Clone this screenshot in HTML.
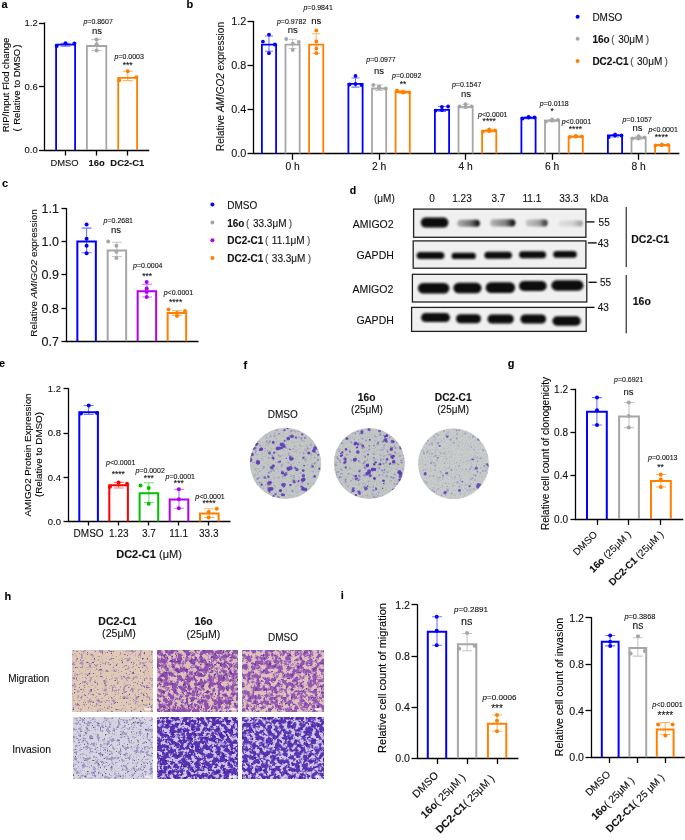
<!DOCTYPE html>
<html><head><meta charset="utf-8"><style>
html,body{margin:0;padding:0;background:#fff;}
svg{display:block;will-change:transform;}
text{font-family:"Liberation Sans", sans-serif;stroke:#000;stroke-width:0.1px;}
</style></head><body>
<svg width="685" height="840" viewBox="0 0 685 840">
<rect width="685" height="840" fill="#fff"/>
<text x="1.50" y="8.00" font-size="11" text-anchor="start" font-weight="bold" fill="#000" >a</text>
<line x1="44.50" y1="22.40" x2="44.50" y2="150.00" stroke="#000" stroke-width="1.3"/>
<line x1="39.00" y1="23.50" x2="44.50" y2="23.50" stroke="#000" stroke-width="1.3"/>
<text x="37.80" y="26.42" font-size="9.5" text-anchor="end" fill="#111" >1.2</text>
<line x1="39.00" y1="86.50" x2="44.50" y2="86.50" stroke="#000" stroke-width="1.3"/>
<text x="37.80" y="89.92" font-size="9.5" text-anchor="end" fill="#111" >0.6</text>
<line x1="39.00" y1="150.50" x2="44.50" y2="150.50" stroke="#000" stroke-width="1.3"/>
<text x="37.80" y="153.42" font-size="9.5" text-anchor="end" fill="#111" >0.0</text>
<line x1="43.90" y1="150.50" x2="149.30" y2="150.50" stroke="#000" stroke-width="1.3"/>
<line x1="65.50" y1="150.50" x2="65.50" y2="155.50" stroke="#000" stroke-width="1.3"/>
<line x1="96.50" y1="150.50" x2="96.50" y2="155.50" stroke="#000" stroke-width="1.3"/>
<line x1="127.50" y1="150.50" x2="127.50" y2="155.50" stroke="#000" stroke-width="1.3"/>
<text transform="translate(8.80,85.00) rotate(-90)" font-size="9.5" text-anchor="middle" fill="#000">RIP/Input Flod change</text>
<text transform="translate(19.50,88.00) rotate(-90)" font-size="9.5" text-anchor="middle" fill="#000"><tspan>(</tspan><tspan dx="3.5">Relative to DMSO</tspan><tspan dx="1">)</tspan></text>
<path d="M65.50 43.20V46.20M60.50 43.20H70.50M60.50 46.20H70.50" fill="none" stroke="#7474ff" stroke-width="1.1"/>
<path d="M56.10 150.00V44.60H75.10V150.00" fill="none" stroke="#0000ff" stroke-width="1.8" stroke-linejoin="miter"/>
<circle cx="56.70" cy="46.00" r="2.0" fill="#0000ff"/>
<circle cx="65.50" cy="43.20" r="2.0" fill="#0000ff"/>
<circle cx="74.40" cy="43.60" r="2.0" fill="#0000ff"/>
<path d="M96.60 39.40V50.50M91.60 39.40H101.60M91.60 50.50H101.60" fill="none" stroke="#c8c8c8" stroke-width="1.1"/>
<path d="M86.90 150.00V46.00H106.30V150.00" fill="none" stroke="#a6a6a6" stroke-width="1.8" stroke-linejoin="miter"/>
<circle cx="96.60" cy="39.40" r="2.0" fill="#a6a6a6"/>
<circle cx="96.60" cy="44.30" r="2.0" fill="#a6a6a6"/>
<circle cx="96.60" cy="50.50" r="2.0" fill="#a6a6a6"/>
<path d="M127.70 71.30V80.60M122.70 71.30H132.70M122.70 80.60H132.70" fill="none" stroke="#ffb568" stroke-width="1.1"/>
<path d="M118.20 150.00V77.80H137.10V150.00" fill="none" stroke="#ff8000" stroke-width="1.8" stroke-linejoin="miter"/>
<circle cx="127.70" cy="71.30" r="2.0" fill="#ff8000"/>
<circle cx="119.30" cy="80.20" r="2.0" fill="#ff8000"/>
<circle cx="136.30" cy="77.20" r="2.0" fill="#ff8000"/>
<text x="83.40" y="24.00" font-size="7" text-anchor="start" fill="#111"><tspan font-style="italic">p</tspan>=0.8607</text>
<text x="97.00" y="33.60" font-size="9.5" text-anchor="middle" fill="#111" >ns</text>
<text x="114.50" y="58.50" font-size="7" text-anchor="start" fill="#111"><tspan font-style="italic">p</tspan>=0.0003</text>
<text x="127.60" y="68.00" font-size="8.5" text-anchor="middle" fill="#111" >***</text>
<text x="64.50" y="165.90" font-size="9.4" text-anchor="middle" fill="#111" >DMSO</text>
<text x="96.60" y="165.90" font-size="9.4" text-anchor="middle" font-weight="bold" fill="#111" >16o</text>
<text x="127.30" y="165.90" font-size="9.4" text-anchor="middle" font-weight="bold" fill="#111" >DC2-C1</text>
<text x="186.50" y="7.60" font-size="11" text-anchor="start" font-weight="bold" fill="#000" >b</text>
<line x1="253.50" y1="21.00" x2="253.50" y2="153.40" stroke="#000" stroke-width="1.3"/>
<line x1="247.50" y1="21.50" x2="253.50" y2="21.50" stroke="#000" stroke-width="1.3"/>
<text x="246.30" y="25.49" font-size="10.8" text-anchor="end" fill="#111" >1.2</text>
<line x1="247.50" y1="65.50" x2="253.50" y2="65.50" stroke="#000" stroke-width="1.3"/>
<text x="246.30" y="69.42" font-size="10.8" text-anchor="end" fill="#111" >0.8</text>
<line x1="247.50" y1="109.50" x2="253.50" y2="109.50" stroke="#000" stroke-width="1.3"/>
<text x="246.30" y="113.35" font-size="10.8" text-anchor="end" fill="#111" >0.4</text>
<line x1="247.50" y1="153.50" x2="253.50" y2="153.50" stroke="#000" stroke-width="1.3"/>
<text x="246.30" y="157.29" font-size="10.8" text-anchor="end" fill="#111" >0.0</text>
<line x1="252.90" y1="153.50" x2="679.40" y2="153.50" stroke="#000" stroke-width="1.3"/>
<line x1="292.50" y1="153.50" x2="292.50" y2="159.80" stroke="#000" stroke-width="1.3"/>
<line x1="379.50" y1="153.50" x2="379.50" y2="159.80" stroke="#000" stroke-width="1.3"/>
<line x1="465.50" y1="153.50" x2="465.50" y2="159.80" stroke="#000" stroke-width="1.3"/>
<line x1="552.50" y1="153.50" x2="552.50" y2="159.80" stroke="#000" stroke-width="1.3"/>
<line x1="638.50" y1="153.50" x2="638.50" y2="159.80" stroke="#000" stroke-width="1.3"/>
<text x="292.60" y="169.80" font-size="10.3" text-anchor="middle" fill="#111" >0 h</text>
<text x="379.10" y="169.80" font-size="10.3" text-anchor="middle" fill="#111" >2 h</text>
<text x="465.60" y="169.80" font-size="10.3" text-anchor="middle" fill="#111" >4 h</text>
<text x="552.10" y="169.80" font-size="10.3" text-anchor="middle" fill="#111" >6 h</text>
<text x="638.60" y="169.80" font-size="10.3" text-anchor="middle" fill="#111" >8 h</text>
<text transform="translate(224.3,86.5) rotate(-90)" font-size="10" text-anchor="middle" fill="#111">Relative <tspan font-style="italic">AMIGO2</tspan> expression</text>
<path d="M269.00 36.00V51.30M265.00 36.00H273.00M265.00 51.30H273.00" fill="none" stroke="#7474ff" stroke-width="1.1"/>
<path d="M261.90 153.40V44.70H276.10V153.40" fill="none" stroke="#0000ff" stroke-width="1.8" stroke-linejoin="miter"/>
<circle cx="269.00" cy="34.60" r="1.9" fill="#0000ff"/>
<circle cx="262.90" cy="41.60" r="1.9" fill="#0000ff"/>
<circle cx="274.90" cy="44.50" r="1.9" fill="#0000ff"/>
<circle cx="269.00" cy="53.20" r="1.9" fill="#0000ff"/>
<path d="M292.60 39.20V48.50M288.60 39.20H296.60M288.60 48.50H296.60" fill="none" stroke="#c8c8c8" stroke-width="1.1"/>
<path d="M285.50 153.40V44.70H299.70V153.40" fill="none" stroke="#a6a6a6" stroke-width="1.8" stroke-linejoin="miter"/>
<circle cx="286.20" cy="39.00" r="1.9" fill="#a6a6a6"/>
<circle cx="292.80" cy="43.60" r="1.9" fill="#a6a6a6"/>
<circle cx="298.80" cy="42.00" r="1.9" fill="#a6a6a6"/>
<circle cx="292.80" cy="50.00" r="1.9" fill="#a6a6a6"/>
<path d="M316.20 33.80V53.20M312.20 33.80H320.20M312.20 53.20H320.20" fill="none" stroke="#ffb568" stroke-width="1.1"/>
<path d="M309.10 153.40V44.70H323.30V153.40" fill="none" stroke="#ff8000" stroke-width="1.8" stroke-linejoin="miter"/>
<circle cx="316.30" cy="30.50" r="1.9" fill="#ff8000"/>
<circle cx="316.30" cy="41.40" r="1.9" fill="#ff8000"/>
<circle cx="316.30" cy="48.50" r="1.9" fill="#ff8000"/>
<circle cx="316.30" cy="53.20" r="1.9" fill="#ff8000"/>
<path d="M355.50 78.00V87.10M351.50 78.00H359.50M351.50 87.10H359.50" fill="none" stroke="#7474ff" stroke-width="1.1"/>
<path d="M348.40 153.40V83.90H362.60V153.40" fill="none" stroke="#0000ff" stroke-width="1.8" stroke-linejoin="miter"/>
<circle cx="355.50" cy="75.90" r="1.9" fill="#0000ff"/>
<circle cx="349.50" cy="84.50" r="1.9" fill="#0000ff"/>
<circle cx="355.50" cy="84.00" r="1.9" fill="#0000ff"/>
<circle cx="361.50" cy="85.00" r="1.9" fill="#0000ff"/>
<path d="M379.10 85.00V90.50M375.10 85.00H383.10M375.10 90.50H383.10" fill="none" stroke="#c8c8c8" stroke-width="1.1"/>
<path d="M372.00 153.40V88.50H386.20V153.40" fill="none" stroke="#a6a6a6" stroke-width="1.8" stroke-linejoin="miter"/>
<circle cx="373.30" cy="85.00" r="1.9" fill="#a6a6a6"/>
<circle cx="379.10" cy="86.40" r="1.9" fill="#a6a6a6"/>
<circle cx="385.80" cy="88.50" r="1.9" fill="#a6a6a6"/>
<circle cx="379.10" cy="88.00" r="1.9" fill="#a6a6a6"/>
<path d="M402.70 90.30V93.50M398.70 90.30H406.70M398.70 93.50H406.70" fill="none" stroke="#ffb568" stroke-width="1.1"/>
<path d="M395.60 153.40V92.00H409.80V153.40" fill="none" stroke="#ff8000" stroke-width="1.8" stroke-linejoin="miter"/>
<circle cx="397.00" cy="90.30" r="1.9" fill="#ff8000"/>
<circle cx="403.10" cy="91.80" r="1.9" fill="#ff8000"/>
<circle cx="409.10" cy="92.30" r="1.9" fill="#ff8000"/>
<circle cx="403.00" cy="92.50" r="1.9" fill="#ff8000"/>
<path d="M442.00 106.50V111.50M438.00 106.50H446.00M438.00 111.50H446.00" fill="none" stroke="#7474ff" stroke-width="1.1"/>
<path d="M434.90 153.40V109.80H449.10V153.40" fill="none" stroke="#0000ff" stroke-width="1.8" stroke-linejoin="miter"/>
<circle cx="441.90" cy="106.80" r="1.9" fill="#0000ff"/>
<circle cx="448.10" cy="106.50" r="1.9" fill="#0000ff"/>
<circle cx="435.70" cy="110.60" r="1.9" fill="#0000ff"/>
<circle cx="442.00" cy="110.00" r="1.9" fill="#0000ff"/>
<path d="M465.60 104.20V108.00M461.60 104.20H469.60M461.60 108.00H469.60" fill="none" stroke="#c8c8c8" stroke-width="1.1"/>
<path d="M458.50 153.40V106.80H472.70V153.40" fill="none" stroke="#a6a6a6" stroke-width="1.8" stroke-linejoin="miter"/>
<circle cx="459.50" cy="106.50" r="1.9" fill="#a6a6a6"/>
<circle cx="465.60" cy="104.20" r="1.9" fill="#a6a6a6"/>
<circle cx="471.50" cy="106.50" r="1.9" fill="#a6a6a6"/>
<circle cx="465.60" cy="107.00" r="1.9" fill="#a6a6a6"/>
<path d="M489.20 129.50V132.00M485.20 129.50H493.20M485.20 132.00H493.20" fill="none" stroke="#ffb568" stroke-width="1.1"/>
<path d="M482.10 153.40V130.80H496.30V153.40" fill="none" stroke="#ff8000" stroke-width="1.8" stroke-linejoin="miter"/>
<circle cx="483.00" cy="131.50" r="1.9" fill="#ff8000"/>
<circle cx="489.20" cy="129.50" r="1.9" fill="#ff8000"/>
<circle cx="495.00" cy="130.50" r="1.9" fill="#ff8000"/>
<circle cx="489.20" cy="131.00" r="1.9" fill="#ff8000"/>
<path d="M528.50 116.80V118.80M524.50 116.80H532.50M524.50 118.80H532.50" fill="none" stroke="#7474ff" stroke-width="1.1"/>
<path d="M521.40 153.40V117.80H535.60V153.40" fill="none" stroke="#0000ff" stroke-width="1.8" stroke-linejoin="miter"/>
<circle cx="522.50" cy="118.50" r="1.9" fill="#0000ff"/>
<circle cx="528.60" cy="116.80" r="1.9" fill="#0000ff"/>
<circle cx="534.50" cy="117.50" r="1.9" fill="#0000ff"/>
<circle cx="528.60" cy="117.50" r="1.9" fill="#0000ff"/>
<path d="M552.10 119.50V121.80M548.10 119.50H556.10M548.10 121.80H556.10" fill="none" stroke="#c8c8c8" stroke-width="1.1"/>
<path d="M545.00 153.40V120.60H559.20V153.40" fill="none" stroke="#a6a6a6" stroke-width="1.8" stroke-linejoin="miter"/>
<circle cx="546.00" cy="121.50" r="1.9" fill="#a6a6a6"/>
<circle cx="552.10" cy="119.50" r="1.9" fill="#a6a6a6"/>
<circle cx="558.00" cy="120.00" r="1.9" fill="#a6a6a6"/>
<circle cx="552.10" cy="120.50" r="1.9" fill="#a6a6a6"/>
<path d="M575.70 136.00V137.50M571.70 136.00H579.70M571.70 137.50H579.70" fill="none" stroke="#ffb568" stroke-width="1.1"/>
<path d="M568.60 153.40V136.70H582.80V153.40" fill="none" stroke="#ff8000" stroke-width="1.8" stroke-linejoin="miter"/>
<circle cx="569.80" cy="137.00" r="1.9" fill="#ff8000"/>
<circle cx="575.80" cy="136.00" r="1.9" fill="#ff8000"/>
<circle cx="581.80" cy="136.50" r="1.9" fill="#ff8000"/>
<circle cx="575.80" cy="136.50" r="1.9" fill="#ff8000"/>
<path d="M615.00 134.50V137.00M611.00 134.50H619.00M611.00 137.00H619.00" fill="none" stroke="#7474ff" stroke-width="1.1"/>
<path d="M607.90 153.40V135.40H622.10V153.40" fill="none" stroke="#0000ff" stroke-width="1.8" stroke-linejoin="miter"/>
<circle cx="608.80" cy="137.00" r="1.9" fill="#0000ff"/>
<circle cx="615.10" cy="134.50" r="1.9" fill="#0000ff"/>
<circle cx="621.50" cy="135.50" r="1.9" fill="#0000ff"/>
<circle cx="615.00" cy="135.50" r="1.9" fill="#0000ff"/>
<path d="M638.60 136.20V139.50M634.60 136.20H642.60M634.60 139.50H642.60" fill="none" stroke="#c8c8c8" stroke-width="1.1"/>
<path d="M631.50 153.40V137.90H645.70V153.40" fill="none" stroke="#a6a6a6" stroke-width="1.8" stroke-linejoin="miter"/>
<circle cx="632.50" cy="138.50" r="1.9" fill="#a6a6a6"/>
<circle cx="638.60" cy="136.20" r="1.9" fill="#a6a6a6"/>
<circle cx="644.50" cy="137.50" r="1.9" fill="#a6a6a6"/>
<circle cx="638.60" cy="138.50" r="1.9" fill="#a6a6a6"/>
<path d="M662.20 144.50V146.00M658.20 144.50H666.20M658.20 146.00H666.20" fill="none" stroke="#ffb568" stroke-width="1.1"/>
<path d="M655.10 153.40V145.00H669.30V153.40" fill="none" stroke="#ff8000" stroke-width="1.8" stroke-linejoin="miter"/>
<circle cx="655.50" cy="145.50" r="1.9" fill="#ff8000"/>
<circle cx="661.80" cy="144.50" r="1.9" fill="#ff8000"/>
<circle cx="668.00" cy="145.00" r="1.9" fill="#ff8000"/>
<circle cx="661.80" cy="145.20" r="1.9" fill="#ff8000"/>
<text x="276.90" y="23.70" font-size="7" text-anchor="start" fill="#111"><tspan font-style="italic">p</tspan>=0.9782</text>
<text x="292.80" y="33.20" font-size="9.5" text-anchor="middle" fill="#111" >ns</text>
<text x="303.40" y="10.40" font-size="7" text-anchor="start" fill="#111"><tspan font-style="italic">p</tspan>=0.9841</text>
<text x="316.20" y="23.70" font-size="9.5" text-anchor="middle" fill="#111" >ns</text>
<text x="366.30" y="61.70" font-size="7" text-anchor="start" fill="#111"><tspan font-style="italic">p</tspan>=0.0977</text>
<text x="379.10" y="74.00" font-size="9.5" text-anchor="middle" fill="#111" >ns</text>
<text x="392.00" y="77.80" font-size="7" text-anchor="start" fill="#111"><tspan font-style="italic">p</tspan>=0.0092</text>
<text x="403.00" y="86.50" font-size="8.5" text-anchor="middle" fill="#111" >**</text>
<text x="451.90" y="86.70" font-size="7" text-anchor="start" fill="#111"><tspan font-style="italic">p</tspan>=0.1547</text>
<text x="465.90" y="96.60" font-size="9.5" text-anchor="middle" fill="#111" >ns</text>
<text x="478.10" y="116.50" font-size="7" text-anchor="start" fill="#111"><tspan font-style="italic">p</tspan>&lt;0.0001</text>
<text x="489.20" y="124.20" font-size="8.5" text-anchor="middle" fill="#111" >****</text>
<text x="539.80" y="105.80" font-size="7" text-anchor="start" fill="#111"><tspan font-style="italic">p</tspan>=0.0118</text>
<text x="552.10" y="114.10" font-size="8.5" text-anchor="middle" fill="#111" >*</text>
<text x="561.70" y="123.90" font-size="7" text-anchor="start" fill="#111"><tspan font-style="italic">p</tspan>&lt;0.0001</text>
<text x="575.40" y="131.60" font-size="8.5" text-anchor="middle" fill="#111" >****</text>
<text x="622.60" y="121.80" font-size="7" text-anchor="start" fill="#111"><tspan font-style="italic">p</tspan>=0.1057</text>
<text x="637.60" y="131.30" font-size="9.5" text-anchor="middle" fill="#111" >ns</text>
<text x="648.40" y="131.70" font-size="7" text-anchor="start" fill="#111"><tspan font-style="italic">p</tspan>&lt;0.0001</text>
<text x="661.40" y="140.00" font-size="8.5" text-anchor="middle" fill="#111" >****</text>
<circle cx="577.6" cy="16.8" r="2" fill="#0000ff"/>
<text x="592.4" y="20.50" font-size="10" fill="#111">DMSO</text>
<circle cx="577.6" cy="38.8" r="2" fill="#a6a6a6"/>
<text x="592.4" y="42.50" font-size="10" fill="#111"><tspan font-weight="bold">16o</tspan><tspan dx="1.6" fill="#555">(</tspan><tspan dx="3.6">30μM</tspan><tspan dx="2.3" fill="#555">)</tspan></text>
<circle cx="577.6" cy="61.1" r="2" fill="#ff8000"/>
<text x="592.4" y="64.80" font-size="10" fill="#111"><tspan font-weight="bold">DC2-C1</tspan><tspan dx="1.6" fill="#555">(</tspan><tspan dx="3.6">30μM</tspan><tspan dx="2.3" fill="#555">)</tspan></text>
<text x="2.00" y="186.70" font-size="11" text-anchor="start" font-weight="bold" fill="#000" >c</text>
<line x1="66.50" y1="208.00" x2="66.50" y2="341.30" stroke="#000" stroke-width="1.3"/>
<line x1="61.50" y1="208.50" x2="66.50" y2="208.50" stroke="#000" stroke-width="1.3"/>
<text x="59.00" y="213.10" font-size="12.5" text-anchor="end" fill="#111" >1.1</text>
<line x1="61.50" y1="241.50" x2="66.50" y2="241.50" stroke="#000" stroke-width="1.3"/>
<text x="59.00" y="246.27" font-size="12.5" text-anchor="end" fill="#111" >1.0</text>
<line x1="61.50" y1="274.50" x2="66.50" y2="274.50" stroke="#000" stroke-width="1.3"/>
<text x="59.00" y="279.45" font-size="12.5" text-anchor="end" fill="#111" >0.9</text>
<line x1="61.50" y1="308.50" x2="66.50" y2="308.50" stroke="#000" stroke-width="1.3"/>
<text x="59.00" y="312.62" font-size="12.5" text-anchor="end" fill="#111" >0.8</text>
<line x1="61.50" y1="341.50" x2="66.50" y2="341.50" stroke="#000" stroke-width="1.3"/>
<text x="59.00" y="345.80" font-size="12.5" text-anchor="end" fill="#111" >0.7</text>
<line x1="65.90" y1="341.50" x2="198.50" y2="341.50" stroke="#000" stroke-width="1.3"/>
<text transform="translate(36.8,273) rotate(-90)" font-size="9.9" text-anchor="middle" fill="#111">Relative <tspan font-style="italic">AMIGO2</tspan> expression</text>
<path d="M86.60 228.10V252.70M81.60 228.10H91.60M81.60 252.70H91.60" fill="none" stroke="#7474ff" stroke-width="1.1"/>
<path d="M77.35 341.30V241.60H95.85V341.30" fill="none" stroke="#0000ff" stroke-width="2" stroke-linejoin="miter"/>
<circle cx="86.60" cy="224.60" r="2.0" fill="#0000ff"/>
<circle cx="86.60" cy="238.70" r="2.0" fill="#0000ff"/>
<circle cx="86.60" cy="245.70" r="2.0" fill="#0000ff"/>
<circle cx="86.60" cy="253.20" r="2.0" fill="#0000ff"/>
<path d="M116.90 242.20V256.50M111.90 242.20H121.90M111.90 256.50H121.90" fill="none" stroke="#c8c8c8" stroke-width="1.1"/>
<path d="M107.65 341.30V250.40H126.15V341.30" fill="none" stroke="#a6a6a6" stroke-width="2" stroke-linejoin="miter"/>
<circle cx="108.20" cy="241.60" r="2.0" fill="#a6a6a6"/>
<circle cx="116.40" cy="245.70" r="2.0" fill="#a6a6a6"/>
<circle cx="116.40" cy="251.80" r="2.0" fill="#a6a6a6"/>
<circle cx="116.40" cy="257.90" r="2.0" fill="#a6a6a6"/>
<path d="M146.90 284.20V297.00M141.90 284.20H151.90M141.90 297.00H151.90" fill="none" stroke="#d070f6" stroke-width="1.1"/>
<path d="M137.65 341.30V291.20H156.15V341.30" fill="none" stroke="#b000f0" stroke-width="2" stroke-linejoin="miter"/>
<circle cx="146.70" cy="281.90" r="2.0" fill="#b000f0"/>
<circle cx="146.70" cy="288.60" r="2.0" fill="#b000f0"/>
<circle cx="146.70" cy="292.10" r="2.0" fill="#b000f0"/>
<circle cx="146.70" cy="297.00" r="2.0" fill="#b000f0"/>
<path d="M176.90 310.50V315.50M171.90 310.50H181.90M171.90 315.50H181.90" fill="none" stroke="#ffb568" stroke-width="1.1"/>
<path d="M167.65 341.30V313.10H186.15V341.30" fill="none" stroke="#ff8000" stroke-width="2" stroke-linejoin="miter"/>
<circle cx="168.50" cy="309.50" r="2.0" fill="#ff8000"/>
<circle cx="176.90" cy="316.00" r="2.0" fill="#ff8000"/>
<circle cx="176.90" cy="313.00" r="2.0" fill="#ff8000"/>
<circle cx="185.00" cy="311.00" r="2.0" fill="#ff8000"/>
<text x="103.60" y="222.90" font-size="7" text-anchor="start" fill="#111"><tspan font-style="italic">p</tspan>=0.2681</text>
<text x="115.90" y="233.40" font-size="9.5" text-anchor="middle" fill="#111" >ns</text>
<text x="133.10" y="267.60" font-size="7" text-anchor="start" fill="#111"><tspan font-style="italic">p</tspan>=0.0004</text>
<text x="147.10" y="278.50" font-size="8.5" text-anchor="middle" fill="#111" >***</text>
<text x="163.70" y="295.20" font-size="7" text-anchor="start" fill="#111"><tspan font-style="italic">p</tspan>&lt;0.0001</text>
<text x="175.60" y="305.30" font-size="8.5" text-anchor="middle" fill="#111" >****</text>
<circle cx="212.4" cy="204.5" r="2" fill="#0000ff"/>
<text x="227.2" y="208.60" font-size="10" fill="#111">DMSO</text>
<circle cx="212.4" cy="222.5" r="2" fill="#a6a6a6"/>
<text x="227.2" y="226.60" font-size="10" fill="#111"><tspan font-weight="bold">16o</tspan><tspan dx="1.6" fill="#555">(</tspan><tspan dx="3.6">33.3μM</tspan><tspan dx="2.3" fill="#555">)</tspan></text>
<circle cx="212.4" cy="240.2" r="2" fill="#b000f0"/>
<text x="227.2" y="244.30" font-size="10" fill="#111"><tspan font-weight="bold">DC2-C1</tspan><tspan dx="1.6" fill="#555">(</tspan><tspan dx="3.6">11.1μM</tspan><tspan dx="2.3" fill="#555">)</tspan></text>
<circle cx="212.4" cy="258.1" r="2" fill="#ff8000"/>
<text x="227.2" y="262.20" font-size="10" fill="#111"><tspan font-weight="bold">DC2-C1</tspan><tspan dx="1.6" fill="#555">(</tspan><tspan dx="3.6">33.3μM</tspan><tspan dx="2.3" fill="#555">)</tspan></text>
<text x="349.80" y="193.90" font-size="10.5" text-anchor="start" font-weight="bold" fill="#000" >d</text>
<text x="384.40" y="201.80" font-size="10" text-anchor="middle" fill="#111" >(μM)</text>
<text x="432.00" y="201.80" font-size="10" text-anchor="middle" fill="#111" >0</text>
<text x="462.00" y="201.80" font-size="10" text-anchor="middle" fill="#111" >1.23</text>
<text x="498.40" y="201.80" font-size="10" text-anchor="middle" fill="#111" >3.7</text>
<text x="531.90" y="201.80" font-size="10" text-anchor="middle" fill="#111" >11.1</text>
<text x="568.90" y="201.80" font-size="10" text-anchor="middle" fill="#111" >33.3</text>
<text x="590.50" y="201.80" font-size="10" text-anchor="start" fill="#111" >kDa</text>
<rect x="413.6" y="209.1" width="172.30" height="28.20" fill="#f0f0f0" stroke="#222" stroke-width="1.3"/>
<rect x="413.2" y="240.9" width="172.70" height="27.30" fill="#f0f0f0" stroke="#222" stroke-width="1.3"/>
<rect x="412.4" y="274.3" width="174.40" height="27.70" fill="#f0f0f0" stroke="#222" stroke-width="1.3"/>
<rect x="411.6" y="307.4" width="174.60" height="24.00" fill="#f0f0f0" stroke="#222" stroke-width="1.3"/>
<defs><filter id="bb" x="-20%" y="-50%" width="140%" height="200%"><feGaussianBlur stdDeviation="0.8"/></filter><linearGradient id="gA2" x1="0" x2="1"><stop offset="0" stop-color="#b0b0b0"/><stop offset="0.6" stop-color="#707070"/><stop offset="0.9" stop-color="#151515"/><stop offset="1" stop-color="#303030"/></linearGradient><linearGradient id="gA3" x1="0" x2="1"><stop offset="0" stop-color="#b8b8b8"/><stop offset="0.6" stop-color="#808080"/><stop offset="0.9" stop-color="#151515"/><stop offset="1" stop-color="#303030"/></linearGradient><linearGradient id="gA4" x1="0" x2="1"><stop offset="0" stop-color="#c8c8c8"/><stop offset="0.6" stop-color="#a0a0a0"/><stop offset="0.88" stop-color="#404040"/><stop offset="1" stop-color="#707070"/></linearGradient><linearGradient id="gA5" x1="0" x2="1"><stop offset="0" stop-color="#e0e0e0"/><stop offset="0.6" stop-color="#cfcfcf"/><stop offset="0.9" stop-color="#a0a0a0"/><stop offset="1" stop-color="#c0c0c0"/></linearGradient></defs>
<rect x="420.80" y="217.60" width="27.60" height="10.00" rx="5.00" fill="#0c0c0c" filter="url(#bb)"/>
<rect x="457.20" y="219.70" width="22.80" height="7.00" rx="3.50" fill="url(#gA2)" filter="url(#bb)"/>
<rect x="490.10" y="219.20" width="25.50" height="7.20" rx="3.60" fill="url(#gA3)" filter="url(#bb)"/>
<rect x="525.60" y="219.60" width="22.40" height="6.80" rx="3.40" fill="url(#gA4)" filter="url(#bb)"/>
<rect x="558.40" y="220.40" width="25.00" height="6.00" rx="3.00" fill="url(#gA5)" filter="url(#bb)"/>
<rect x="416.60" y="251.90" width="27.80" height="7.20" rx="3.60" fill="#0c0c0c" filter="url(#bb)"/>
<rect x="451.60" y="252.70" width="24.30" height="6.40" rx="3.20" fill="#0c0c0c" filter="url(#bb)"/>
<rect x="484.40" y="251.70" width="27.60" height="7.00" rx="3.50" fill="#0c0c0c" filter="url(#bb)"/>
<rect x="519.00" y="251.30" width="27.10" height="7.00" rx="3.50" fill="#0c0c0c" filter="url(#bb)"/>
<rect x="553.20" y="251.00" width="23.60" height="6.80" rx="3.40" fill="#0c0c0c" filter="url(#bb)"/>
<rect x="417.90" y="282.95" width="31.50" height="10.50" rx="5.25" fill="#0c0c0c" filter="url(#bb)"/>
<rect x="453.40" y="282.75" width="28.10" height="10.50" rx="5.25" fill="#0c0c0c" filter="url(#bb)"/>
<rect x="485.70" y="282.20" width="29.40" height="10.80" rx="5.40" fill="#0c0c0c" filter="url(#bb)"/>
<rect x="519.00" y="281.00" width="27.60" height="10.00" rx="5.00" fill="#0c0c0c" filter="url(#bb)"/>
<rect x="551.40" y="280.15" width="32.00" height="10.50" rx="5.25" fill="#0c0c0c" filter="url(#bb)"/>
<rect x="421.00" y="313.10" width="29.00" height="9.00" rx="4.50" fill="#0c0c0c" filter="url(#bb)"/>
<rect x="456.00" y="314.30" width="25.00" height="9.00" rx="4.50" fill="#0c0c0c" filter="url(#bb)"/>
<rect x="487.50" y="314.50" width="26.30" height="9.00" rx="4.50" fill="#0c0c0c" filter="url(#bb)"/>
<rect x="520.40" y="314.50" width="25.70" height="9.00" rx="4.50" fill="#0c0c0c" filter="url(#bb)"/>
<rect x="552.40" y="316.25" width="28.40" height="9.50" rx="4.75" fill="#0c0c0c" filter="url(#bb)"/>
<text x="393.60" y="227.60" font-size="10.5" text-anchor="end" fill="#111" >AMIGO2</text>
<text x="393.80" y="258.90" font-size="10.5" text-anchor="end" fill="#111" >GAPDH</text>
<text x="393.30" y="293.20" font-size="10.5" text-anchor="end" fill="#111" >AMIGO2</text>
<text x="393.80" y="323.50" font-size="10.5" text-anchor="end" fill="#111" >GAPDH</text>
<line x1="586.40" y1="221.90" x2="594.50" y2="221.90" stroke="#000" stroke-width="1.3"/>
<text x="598.60" y="225.60" font-size="10" text-anchor="start" fill="#111" >55</text>
<line x1="587.80" y1="242.90" x2="596.70" y2="242.90" stroke="#000" stroke-width="1.3"/>
<text x="597.80" y="246.60" font-size="10" text-anchor="start" fill="#111" >43</text>
<line x1="588.60" y1="282.30" x2="596.70" y2="282.30" stroke="#000" stroke-width="1.3"/>
<text x="600.00" y="286.00" font-size="10" text-anchor="start" fill="#111" >55</text>
<line x1="586.40" y1="307.40" x2="594.50" y2="307.40" stroke="#000" stroke-width="1.3"/>
<text x="597.80" y="311.10" font-size="10" text-anchor="start" fill="#111" >43</text>
<line x1="626.20" y1="207.00" x2="626.20" y2="267.00" stroke="#000" stroke-width="1"/>
<line x1="626.20" y1="275.00" x2="626.20" y2="333.30" stroke="#000" stroke-width="1"/>
<text x="650.20" y="242.50" font-size="10.5" text-anchor="middle" font-weight="bold" fill="#111" >DC2-C1</text>
<text x="641.80" y="305.10" font-size="10.5" text-anchor="middle" font-weight="bold" fill="#111" >16o</text>
<text x="-1.00" y="367.00" font-size="11" text-anchor="start" font-weight="bold" fill="#000" >e</text>
<line x1="68.50" y1="388.20" x2="68.50" y2="521.60" stroke="#000" stroke-width="1.3"/>
<line x1="63.50" y1="388.50" x2="68.50" y2="388.50" stroke="#000" stroke-width="1.3"/>
<text x="61.00" y="392.22" font-size="9.5" text-anchor="end" fill="#111" >1.2</text>
<line x1="63.50" y1="433.50" x2="68.50" y2="433.50" stroke="#000" stroke-width="1.3"/>
<text x="61.00" y="436.49" font-size="9.5" text-anchor="end" fill="#111" >0.8</text>
<line x1="63.50" y1="477.50" x2="68.50" y2="477.50" stroke="#000" stroke-width="1.3"/>
<text x="61.00" y="480.75" font-size="9.5" text-anchor="end" fill="#111" >0.4</text>
<line x1="63.50" y1="521.50" x2="68.50" y2="521.50" stroke="#000" stroke-width="1.3"/>
<text x="61.00" y="525.02" font-size="9.5" text-anchor="end" fill="#111" >0.0</text>
<line x1="67.90" y1="521.50" x2="230.50" y2="521.50" stroke="#000" stroke-width="1.3"/>
<line x1="88.50" y1="521.50" x2="88.50" y2="525.50" stroke="#000" stroke-width="1.3"/>
<line x1="118.50" y1="521.50" x2="118.50" y2="525.50" stroke="#000" stroke-width="1.3"/>
<line x1="148.50" y1="521.50" x2="148.50" y2="525.50" stroke="#000" stroke-width="1.3"/>
<line x1="178.50" y1="521.50" x2="178.50" y2="525.50" stroke="#000" stroke-width="1.3"/>
<line x1="208.50" y1="521.50" x2="208.50" y2="525.50" stroke="#000" stroke-width="1.3"/>
<text transform="translate(30.80,455.00) rotate(-90)" font-size="9.8" text-anchor="middle" fill="#000">AMIGO2 Protein Expression</text>
<text transform="translate(41.60,454.50) rotate(-90)" font-size="9.8" text-anchor="middle" fill="#000">(Relative to DMSO)</text>
<path d="M88.60 405.50V414.50M83.60 405.50H93.60M83.60 414.50H93.60" fill="none" stroke="#7474ff" stroke-width="1.1"/>
<path d="M79.30 521.60V412.20H97.90V521.60" fill="none" stroke="#0000ff" stroke-width="2" stroke-linejoin="miter"/>
<circle cx="88.70" cy="405.50" r="2.0" fill="#0000ff"/>
<circle cx="81.00" cy="413.50" r="2.0" fill="#0000ff"/>
<circle cx="97.00" cy="413.00" r="2.0" fill="#0000ff"/>
<path d="M118.60 482.40V488.00M113.60 482.40H123.60M113.60 488.00H123.60" fill="none" stroke="#ff7070" stroke-width="1.1"/>
<path d="M109.30 521.60V485.20H127.90V521.60" fill="none" stroke="#ff0000" stroke-width="2" stroke-linejoin="miter"/>
<circle cx="110.00" cy="486.80" r="2.0" fill="#ff0000"/>
<circle cx="118.60" cy="482.40" r="2.0" fill="#ff0000"/>
<circle cx="127.00" cy="483.70" r="2.0" fill="#ff0000"/>
<path d="M148.90 482.80V502.50M143.90 482.80H153.90M143.90 502.50H153.90" fill="none" stroke="#70dc70" stroke-width="1.1"/>
<path d="M139.60 521.60V493.20H158.20V521.60" fill="none" stroke="#00c000" stroke-width="2" stroke-linejoin="miter"/>
<circle cx="140.50" cy="485.50" r="2.0" fill="#00c000"/>
<circle cx="148.70" cy="487.90" r="2.0" fill="#00c000"/>
<circle cx="148.70" cy="503.80" r="2.0" fill="#00c000"/>
<path d="M179.00 489.20V508.30M174.00 489.20H184.00M174.00 508.30H184.00" fill="none" stroke="#d070f6" stroke-width="1.1"/>
<path d="M169.70 521.60V499.60H188.30V521.60" fill="none" stroke="#b000f0" stroke-width="2" stroke-linejoin="miter"/>
<circle cx="178.80" cy="489.20" r="2.0" fill="#b000f0"/>
<circle cx="178.80" cy="499.20" r="2.0" fill="#b000f0"/>
<circle cx="178.80" cy="508.30" r="2.0" fill="#b000f0"/>
<path d="M209.30 508.70V517.40M204.30 508.70H214.30M204.30 517.40H214.30" fill="none" stroke="#ffb568" stroke-width="1.1"/>
<path d="M200.00 521.60V513.40H218.60V521.60" fill="none" stroke="#ff8000" stroke-width="2" stroke-linejoin="miter"/>
<circle cx="216.80" cy="508.70" r="2.0" fill="#ff8000"/>
<circle cx="208.60" cy="512.00" r="2.0" fill="#ff8000"/>
<circle cx="208.60" cy="517.40" r="2.0" fill="#ff8000"/>
<text x="106.00" y="464.60" font-size="7" text-anchor="start" fill="#111"><tspan font-style="italic">p</tspan>&lt;0.0001</text>
<text x="118.30" y="477.40" font-size="8.5" text-anchor="middle" fill="#111" >****</text>
<text x="135.40" y="472.50" font-size="7" text-anchor="start" fill="#111"><tspan font-style="italic">p</tspan>=0.0002</text>
<text x="148.80" y="480.50" font-size="8.5" text-anchor="middle" fill="#111" >***</text>
<text x="165.60" y="478.50" font-size="7" text-anchor="start" fill="#111"><tspan font-style="italic">p</tspan>=0.0001</text>
<text x="178.80" y="486.30" font-size="8.5" text-anchor="middle" fill="#111" >***</text>
<text x="195.30" y="498.70" font-size="7" text-anchor="start" fill="#111"><tspan font-style="italic">p</tspan>&lt;0.0001</text>
<text x="209.00" y="506.00" font-size="8.5" text-anchor="middle" fill="#111" >****</text>
<text x="88.60" y="537.40" font-size="10" text-anchor="middle" fill="#111" >DMSO</text>
<text x="118.80" y="537.40" font-size="10" text-anchor="middle" fill="#111" >1.23</text>
<text x="148.90" y="537.40" font-size="10" text-anchor="middle" fill="#111" >3.7</text>
<text x="178.70" y="537.40" font-size="10" text-anchor="middle" fill="#111" >11.1</text>
<text x="208.80" y="537.40" font-size="10" text-anchor="middle" fill="#111" >33.3</text>
<text x="149" y="558.2" font-size="11" text-anchor="middle" fill="#111"><tspan font-weight="bold">DC2-C1</tspan> (μM)</text>
<text x="243.60" y="368.60" font-size="11" text-anchor="start" font-weight="bold" fill="#000" >f</text>
<text x="282.80" y="417.80" font-size="10" text-anchor="middle" fill="#111" >DMSO</text>
<text x="366.60" y="400.70" font-size="10.2" text-anchor="middle" font-weight="bold" fill="#111" >16o</text>
<text x="367.00" y="412.70" font-size="10" text-anchor="middle" fill="#111" >(25μM)</text>
<text x="453.20" y="400.70" font-size="10.2" text-anchor="middle" font-weight="bold" fill="#111" >DC2-C1</text>
<text x="453.20" y="412.70" font-size="10" text-anchor="middle" fill="#111" >(25μM)</text>
<defs><filter id="pgrain11" x="0" y="0" width="100%" height="100%" color-interpolation-filters="sRGB"><feTurbulence type="fractalNoise" baseFrequency="0.85" numOctaves="2" seed="11" result="n"/><feColorMatrix in="n" type="matrix" values="0 0 0 0 0.50  0 0 0 0 0.52  0 0 0 0 0.54  1 0 0 0 0" result="a"/><feComponentTransfer in="a" result="m"><feFuncA type="linear" slope="1.1" intercept="-0.56"/></feComponentTransfer><feComposite in="m" in2="SourceGraphic" operator="in" result="g"/><feMerge><feMergeNode in="SourceGraphic"/><feMergeNode in="g"/></feMerge></filter></defs>
<defs><filter id="pgrain12" x="0" y="0" width="100%" height="100%" color-interpolation-filters="sRGB"><feTurbulence type="fractalNoise" baseFrequency="0.85" numOctaves="2" seed="12" result="n"/><feColorMatrix in="n" type="matrix" values="0 0 0 0 0.50  0 0 0 0 0.52  0 0 0 0 0.54  1 0 0 0 0" result="a"/><feComponentTransfer in="a" result="m"><feFuncA type="linear" slope="1.1" intercept="-0.56"/></feComponentTransfer><feComposite in="m" in2="SourceGraphic" operator="in" result="g"/><feMerge><feMergeNode in="SourceGraphic"/><feMergeNode in="g"/></feMerge></filter></defs>
<defs><filter id="pgrain13" x="0" y="0" width="100%" height="100%" color-interpolation-filters="sRGB"><feTurbulence type="fractalNoise" baseFrequency="0.85" numOctaves="2" seed="13" result="n"/><feColorMatrix in="n" type="matrix" values="0 0 0 0 0.50  0 0 0 0 0.52  0 0 0 0 0.54  1 0 0 0 0" result="a"/><feComponentTransfer in="a" result="m"><feFuncA type="linear" slope="1.1" intercept="-0.56"/></feComponentTransfer><feComposite in="m" in2="SourceGraphic" operator="in" result="g"/><feMerge><feMergeNode in="SourceGraphic"/><feMergeNode in="g"/></feMerge></filter></defs>
<clipPath id="clip11"><circle cx="285.5" cy="463.4" r="35.6"/></clipPath>
<circle cx="285.5" cy="463.4" r="35.6" fill="#c3c8c7" filter="url(#pgrain11)"/>
<g clip-path="url(#clip11)"><g filter="url(#pblur)">
<circle cx="259.5" cy="471.4" r="0.70" fill="#8470c4" opacity="0.53"/>
<circle cx="272.2" cy="455.3" r="0.82" fill="#8470c4" opacity="0.66"/>
<circle cx="303.4" cy="475.8" r="1.68" fill="#6040b8" opacity="0.92"/>
<circle cx="274.2" cy="452.8" r="1.25" fill="#6040b8" opacity="0.76"/>
<circle cx="254.5" cy="475.6" r="0.83" fill="#8470c4" opacity="0.52"/>
<circle cx="272.7" cy="442.5" r="1.10" fill="#8470c4" opacity="0.75"/>
<circle cx="301.9" cy="437.6" r="0.52" fill="#8470c4" opacity="0.43"/>
<circle cx="314.2" cy="477.0" r="0.98" fill="#8470c4" opacity="0.47"/>
<circle cx="318.6" cy="454.5" r="0.74" fill="#6040b8" opacity="0.98"/>
<circle cx="318.0" cy="455.1" r="0.83" fill="#6040b8" opacity="0.98"/>
<circle cx="303.4" cy="474.3" r="0.92" fill="#8470c4" opacity="0.35"/>
<circle cx="285.6" cy="474.1" r="1.73" fill="#6040b8" opacity="0.79"/>
<circle cx="284.8" cy="475.3" r="1.25" fill="#6040b8" opacity="0.79"/>
<circle cx="270.8" cy="471.4" r="1.08" fill="#8470c4" opacity="0.66"/>
<circle cx="273.3" cy="496.6" r="0.97" fill="#6040b8" opacity="0.96"/>
<circle cx="273.6" cy="496.1" r="1.03" fill="#6040b8" opacity="0.96"/>
<circle cx="282.4" cy="472.7" r="1.63" fill="#6040b8" opacity="0.81"/>
<circle cx="282.6" cy="473.0" r="1.57" fill="#6040b8" opacity="0.81"/>
<circle cx="291.3" cy="476.4" r="0.96" fill="#8470c4" opacity="0.41"/>
<circle cx="297.0" cy="492.4" r="0.50" fill="#8470c4" opacity="0.73"/>
<circle cx="306.3" cy="444.4" r="0.43" fill="#8470c4" opacity="0.32"/>
<circle cx="302.7" cy="459.3" r="0.54" fill="#8470c4" opacity="0.67"/>
<circle cx="269.5" cy="453.1" r="1.55" fill="#6040b8" opacity="0.77"/>
<circle cx="278.4" cy="497.1" r="0.69" fill="#6040b8" opacity="0.82"/>
<circle cx="279.0" cy="497.1" r="0.69" fill="#6040b8" opacity="0.82"/>
<circle cx="313.3" cy="440.6" r="0.87" fill="#8470c4" opacity="0.56"/>
<circle cx="288.4" cy="469.0" r="1.65" fill="#6040b8" opacity="0.93"/>
<circle cx="290.5" cy="468.1" r="2.08" fill="#6040b8" opacity="0.93"/>
<circle cx="288.6" cy="468.8" r="1.86" fill="#6040b8" opacity="0.93"/>
<circle cx="310.7" cy="445.1" r="0.94" fill="#8470c4" opacity="0.71"/>
<circle cx="267.6" cy="487.5" r="1.00" fill="#8470c4" opacity="0.49"/>
<circle cx="294.0" cy="430.7" r="0.82" fill="#8470c4" opacity="0.47"/>
<circle cx="261.5" cy="449.1" r="1.55" fill="#6040b8" opacity="1.00"/>
<circle cx="261.1" cy="449.2" r="1.62" fill="#6040b8" opacity="1.00"/>
<circle cx="259.9" cy="449.9" r="1.06" fill="#6040b8" opacity="1.00"/>
<circle cx="265.2" cy="448.4" r="0.87" fill="#8470c4" opacity="0.52"/>
<circle cx="259.3" cy="440.4" r="0.36" fill="#8470c4" opacity="0.44"/>
<circle cx="279.5" cy="448.2" r="1.80" fill="#6040b8" opacity="0.91"/>
<circle cx="277.5" cy="448.5" r="1.92" fill="#6040b8" opacity="0.91"/>
<circle cx="314.7" cy="445.9" r="0.79" fill="#8470c4" opacity="0.44"/>
<circle cx="302.3" cy="482.7" r="0.99" fill="#8470c4" opacity="0.62"/>
<circle cx="303.5" cy="457.8" r="1.19" fill="#6040b8" opacity="0.82"/>
<circle cx="272.2" cy="493.9" r="0.69" fill="#8470c4" opacity="0.33"/>
<circle cx="319.5" cy="468.8" r="1.19" fill="#6040b8" opacity="0.89"/>
<circle cx="280.0" cy="465.0" r="0.53" fill="#8470c4" opacity="0.36"/>
<circle cx="313.1" cy="471.8" r="0.82" fill="#8470c4" opacity="0.59"/>
<circle cx="298.0" cy="430.1" r="0.50" fill="#8470c4" opacity="0.51"/>
<circle cx="287.1" cy="466.8" r="0.89" fill="#8470c4" opacity="0.38"/>
<circle cx="282.5" cy="484.5" r="0.74" fill="#8470c4" opacity="0.58"/>
<circle cx="286.4" cy="440.6" r="1.03" fill="#8470c4" opacity="0.34"/>
<circle cx="313.4" cy="450.9" r="1.42" fill="#6040b8" opacity="0.91"/>
<circle cx="314.3" cy="451.6" r="1.17" fill="#6040b8" opacity="0.91"/>
<circle cx="314.0" cy="450.1" r="1.32" fill="#6040b8" opacity="0.91"/>
<circle cx="297.6" cy="437.0" r="0.51" fill="#8470c4" opacity="0.70"/>
<circle cx="321.1" cy="459.0" r="0.94" fill="#8470c4" opacity="0.44"/>
<circle cx="313.9" cy="445.4" r="0.41" fill="#8470c4" opacity="0.50"/>
<circle cx="255.2" cy="453.5" r="0.37" fill="#8470c4" opacity="0.66"/>
<circle cx="314.7" cy="476.2" r="1.19" fill="#6040b8" opacity="0.95"/>
<circle cx="301.7" cy="437.9" r="0.72" fill="#8470c4" opacity="0.73"/>
<circle cx="300.2" cy="472.2" r="0.57" fill="#8470c4" opacity="0.63"/>
<circle cx="268.6" cy="443.3" r="0.77" fill="#8470c4" opacity="0.44"/>
<circle cx="261.0" cy="486.1" r="0.51" fill="#8470c4" opacity="0.68"/>
<circle cx="311.3" cy="458.2" r="0.50" fill="#8470c4" opacity="0.54"/>
<circle cx="258.2" cy="463.0" r="1.72" fill="#6040b8" opacity="0.88"/>
<circle cx="257.8" cy="461.5" r="1.76" fill="#6040b8" opacity="0.88"/>
<circle cx="255.1" cy="481.7" r="0.55" fill="#8470c4" opacity="0.51"/>
<circle cx="302.2" cy="480.5" r="1.03" fill="#8470c4" opacity="0.51"/>
<circle cx="279.0" cy="477.9" r="1.04" fill="#8470c4" opacity="0.36"/>
<circle cx="286.3" cy="458.2" r="0.77" fill="#6040b8" opacity="0.92"/>
<circle cx="284.0" cy="450.8" r="0.54" fill="#8470c4" opacity="0.39"/>
<circle cx="261.9" cy="458.9" r="0.66" fill="#8470c4" opacity="0.54"/>
<circle cx="294.3" cy="477.2" r="0.83" fill="#8470c4" opacity="0.54"/>
<circle cx="302.4" cy="440.6" r="0.52" fill="#8470c4" opacity="0.63"/>
<circle cx="298.3" cy="431.4" r="0.59" fill="#8470c4" opacity="0.72"/>
<circle cx="292.7" cy="499.0" r="0.45" fill="#8470c4" opacity="0.41"/>
<circle cx="281.7" cy="444.8" r="1.73" fill="#6040b8" opacity="0.86"/>
<circle cx="281.4" cy="444.3" r="1.73" fill="#6040b8" opacity="0.86"/>
<circle cx="283.9" cy="446.4" r="1.28" fill="#6040b8" opacity="0.86"/>
<circle cx="253.9" cy="462.3" r="0.86" fill="#8470c4" opacity="0.39"/>
<circle cx="295.4" cy="467.8" r="1.10" fill="#6040b8" opacity="0.88"/>
<circle cx="297.0" cy="469.6" r="1.57" fill="#6040b8" opacity="0.88"/>
<circle cx="293.0" cy="468.5" r="0.70" fill="#8470c4" opacity="0.64"/>
<circle cx="274.0" cy="485.4" r="0.67" fill="#8470c4" opacity="0.57"/>
<circle cx="315.8" cy="465.9" r="0.49" fill="#8470c4" opacity="0.50"/>
<circle cx="284.6" cy="440.8" r="0.98" fill="#6040b8" opacity="0.88"/>
<circle cx="304.0" cy="441.3" r="0.80" fill="#8470c4" opacity="0.53"/>
<circle cx="317.9" cy="459.9" r="1.03" fill="#8470c4" opacity="0.63"/>
<circle cx="291.2" cy="431.1" r="1.02" fill="#8470c4" opacity="0.70"/>
<circle cx="274.7" cy="433.5" r="0.65" fill="#8470c4" opacity="0.63"/>
<circle cx="304.7" cy="472.5" r="0.36" fill="#8470c4" opacity="0.46"/>
<circle cx="267.0" cy="441.4" r="1.06" fill="#8470c4" opacity="0.60"/>
<circle cx="270.0" cy="488.5" r="0.75" fill="#8470c4" opacity="0.48"/>
<circle cx="314.6" cy="463.4" r="0.92" fill="#8470c4" opacity="0.74"/>
<circle cx="313.7" cy="467.5" r="0.54" fill="#8470c4" opacity="0.48"/>
<circle cx="300.8" cy="468.4" r="0.42" fill="#8470c4" opacity="0.41"/>
<circle cx="307.8" cy="448.4" r="1.08" fill="#8470c4" opacity="0.56"/>
<circle cx="314.5" cy="462.5" r="0.41" fill="#8470c4" opacity="0.57"/>
<circle cx="285.9" cy="455.7" r="0.47" fill="#8470c4" opacity="0.51"/>
<circle cx="297.9" cy="485.7" r="0.39" fill="#8470c4" opacity="0.73"/>
<circle cx="262.3" cy="476.0" r="0.62" fill="#8470c4" opacity="0.43"/>
<circle cx="270.2" cy="440.9" r="0.89" fill="#8470c4" opacity="0.43"/>
<circle cx="304.0" cy="465.4" r="0.68" fill="#6040b8" opacity="0.94"/>
<circle cx="304.2" cy="465.7" r="0.69" fill="#6040b8" opacity="0.94"/>
<circle cx="305.2" cy="450.1" r="1.08" fill="#8470c4" opacity="0.41"/>
<circle cx="250.7" cy="458.3" r="0.70" fill="#8470c4" opacity="0.74"/>
<circle cx="295.9" cy="437.7" r="1.11" fill="#6040b8" opacity="0.86"/>
<circle cx="257.7" cy="473.8" r="0.55" fill="#8470c4" opacity="0.56"/>
<circle cx="257.5" cy="478.9" r="1.10" fill="#8470c4" opacity="0.73"/>
<circle cx="283.3" cy="445.1" r="1.80" fill="#6040b8" opacity="0.95"/>
<circle cx="283.9" cy="446.0" r="1.76" fill="#6040b8" opacity="0.95"/>
<circle cx="285.8" cy="447.6" r="1.08" fill="#8470c4" opacity="0.71"/>
<circle cx="290.0" cy="458.5" r="0.79" fill="#6040b8" opacity="0.86"/>
<circle cx="290.0" cy="458.7" r="1.03" fill="#6040b8" opacity="0.86"/>
<circle cx="270.4" cy="447.1" r="0.51" fill="#8470c4" opacity="0.45"/>
<circle cx="284.8" cy="429.7" r="0.81" fill="#6040b8" opacity="0.95"/>
<circle cx="284.1" cy="430.6" r="0.79" fill="#6040b8" opacity="0.95"/>
<circle cx="264.9" cy="433.7" r="0.76" fill="#8470c4" opacity="0.64"/>
<circle cx="306.4" cy="452.1" r="0.42" fill="#8470c4" opacity="0.69"/>
<circle cx="294.7" cy="468.4" r="0.71" fill="#8470c4" opacity="0.61"/>
<circle cx="275.5" cy="494.3" r="1.03" fill="#6040b8" opacity="0.92"/>
<circle cx="282.7" cy="476.8" r="0.89" fill="#8470c4" opacity="0.46"/>
<circle cx="308.1" cy="484.0" r="1.04" fill="#8470c4" opacity="0.72"/>
<circle cx="306.1" cy="451.0" r="0.58" fill="#8470c4" opacity="0.44"/>
<circle cx="257.2" cy="484.1" r="0.54" fill="#8470c4" opacity="0.46"/>
<circle cx="271.0" cy="479.8" r="0.64" fill="#8470c4" opacity="0.39"/>
<circle cx="255.7" cy="450.7" r="0.98" fill="#8470c4" opacity="0.55"/>
<circle cx="299.6" cy="491.7" r="0.56" fill="#8470c4" opacity="0.31"/>
<circle cx="258.8" cy="460.8" r="1.07" fill="#8470c4" opacity="0.59"/>
<circle cx="288.6" cy="454.7" r="0.94" fill="#8470c4" opacity="0.34"/>
<circle cx="312.7" cy="478.7" r="0.41" fill="#8470c4" opacity="0.59"/>
<circle cx="304.9" cy="488.0" r="0.53" fill="#8470c4" opacity="0.40"/>
<circle cx="288.0" cy="437.3" r="0.65" fill="#8470c4" opacity="0.45"/>
<circle cx="314.7" cy="457.5" r="0.75" fill="#8470c4" opacity="0.62"/>
<circle cx="276.5" cy="429.9" r="0.97" fill="#8470c4" opacity="0.60"/>
<circle cx="305.2" cy="437.5" r="1.02" fill="#8470c4" opacity="0.73"/>
<circle cx="268.8" cy="443.1" r="0.95" fill="#8470c4" opacity="0.49"/>
<circle cx="273.3" cy="470.1" r="1.09" fill="#8470c4" opacity="0.47"/>
<circle cx="293.6" cy="477.7" r="0.57" fill="#8470c4" opacity="0.74"/>
<circle cx="303.2" cy="470.6" r="1.45" fill="#6040b8" opacity="0.94"/>
<circle cx="291.7" cy="459.8" r="0.79" fill="#6040b8" opacity="0.80"/>
<circle cx="294.0" cy="481.0" r="1.33" fill="#6040b8" opacity="0.83"/>
<circle cx="294.2" cy="482.2" r="1.39" fill="#6040b8" opacity="0.83"/>
<circle cx="251.5" cy="453.0" r="0.52" fill="#8470c4" opacity="0.32"/>
<circle cx="316.3" cy="452.9" r="0.75" fill="#8470c4" opacity="0.53"/>
<circle cx="279.9" cy="499.1" r="0.53" fill="#8470c4" opacity="0.30"/>
<circle cx="263.7" cy="467.2" r="0.88" fill="#8470c4" opacity="0.57"/>
<circle cx="293.4" cy="475.4" r="0.54" fill="#8470c4" opacity="0.69"/>
<circle cx="256.7" cy="460.5" r="0.55" fill="#8470c4" opacity="0.54"/>
<circle cx="303.0" cy="488.6" r="1.74" fill="#6040b8" opacity="0.96"/>
<circle cx="303.0" cy="489.2" r="1.55" fill="#6040b8" opacity="0.96"/>
<circle cx="305.4" cy="489.5" r="1.86" fill="#6040b8" opacity="0.96"/>
<circle cx="274.8" cy="493.8" r="1.04" fill="#8470c4" opacity="0.34"/>
<circle cx="293.1" cy="448.7" r="0.74" fill="#8470c4" opacity="0.37"/>
<circle cx="295.5" cy="445.8" r="0.41" fill="#8470c4" opacity="0.44"/>
<circle cx="255.4" cy="469.7" r="0.87" fill="#8470c4" opacity="0.35"/>
<circle cx="266.1" cy="478.6" r="0.97" fill="#8470c4" opacity="0.59"/>
<circle cx="307.7" cy="465.1" r="0.53" fill="#8470c4" opacity="0.55"/>
<circle cx="281.9" cy="464.4" r="0.95" fill="#8470c4" opacity="0.39"/>
<circle cx="270.9" cy="450.4" r="0.75" fill="#8470c4" opacity="0.43"/>
<circle cx="273.6" cy="482.8" r="0.54" fill="#8470c4" opacity="0.39"/>
<circle cx="283.1" cy="442.7" r="0.77" fill="#8470c4" opacity="0.63"/>
<circle cx="269.6" cy="491.7" r="0.82" fill="#6040b8" opacity="0.77"/>
<circle cx="269.8" cy="492.3" r="0.69" fill="#6040b8" opacity="0.77"/>
<circle cx="268.9" cy="491.6" r="0.70" fill="#6040b8" opacity="0.77"/>
<circle cx="277.3" cy="468.8" r="0.67" fill="#8470c4" opacity="0.53"/>
<circle cx="266.4" cy="438.0" r="0.64" fill="#8470c4" opacity="0.45"/>
<circle cx="281.7" cy="465.8" r="0.87" fill="#8470c4" opacity="0.74"/>
<circle cx="292.8" cy="434.8" r="0.36" fill="#8470c4" opacity="0.45"/>
<circle cx="270.1" cy="488.1" r="0.92" fill="#6040b8" opacity="0.88"/>
<circle cx="270.0" cy="488.7" r="1.14" fill="#6040b8" opacity="0.88"/>
<circle cx="269.2" cy="487.9" r="0.91" fill="#6040b8" opacity="0.88"/>
<circle cx="277.3" cy="428.3" r="0.89" fill="#8470c4" opacity="0.68"/>
<circle cx="297.0" cy="496.8" r="0.50" fill="#8470c4" opacity="0.34"/>
<circle cx="286.4" cy="491.0" r="0.60" fill="#8470c4" opacity="0.72"/>
<circle cx="269.7" cy="482.5" r="1.78" fill="#6040b8" opacity="0.78"/>
<circle cx="268.9" cy="483.6" r="2.16" fill="#6040b8" opacity="0.78"/>
<circle cx="270.6" cy="482.6" r="1.41" fill="#6040b8" opacity="0.78"/>
<circle cx="294.3" cy="446.0" r="0.53" fill="#8470c4" opacity="0.56"/>
<circle cx="293.1" cy="449.7" r="0.41" fill="#8470c4" opacity="0.31"/>
<circle cx="300.8" cy="496.0" r="0.84" fill="#8470c4" opacity="0.44"/>
<circle cx="270.7" cy="436.0" r="0.79" fill="#8470c4" opacity="0.66"/>
<circle cx="301.6" cy="465.1" r="0.46" fill="#8470c4" opacity="0.47"/>
<circle cx="271.8" cy="457.0" r="0.55" fill="#8470c4" opacity="0.56"/>
<circle cx="271.4" cy="488.6" r="1.36" fill="#6040b8" opacity="0.79"/>
<circle cx="271.5" cy="489.2" r="1.60" fill="#6040b8" opacity="0.79"/>
<circle cx="271.8" cy="488.7" r="1.77" fill="#6040b8" opacity="0.79"/>
<circle cx="303.2" cy="434.9" r="0.68" fill="#8470c4" opacity="0.55"/>
<circle cx="307.3" cy="448.6" r="0.67" fill="#8470c4" opacity="0.71"/>
<circle cx="281.9" cy="471.1" r="1.03" fill="#8470c4" opacity="0.63"/>
<circle cx="259.7" cy="445.3" r="0.80" fill="#8470c4" opacity="0.33"/>
<circle cx="302.7" cy="480.5" r="0.65" fill="#8470c4" opacity="0.32"/>
<circle cx="276.6" cy="438.6" r="0.58" fill="#8470c4" opacity="0.48"/>
<circle cx="286.3" cy="472.9" r="1.07" fill="#8470c4" opacity="0.60"/>
<circle cx="301.3" cy="445.9" r="0.52" fill="#8470c4" opacity="0.64"/>
<circle cx="255.2" cy="448.0" r="1.35" fill="#6040b8" opacity="0.78"/>
<circle cx="253.4" cy="448.9" r="1.21" fill="#6040b8" opacity="0.78"/>
<circle cx="311.4" cy="443.3" r="0.62" fill="#8470c4" opacity="0.56"/>
<circle cx="291.6" cy="465.2" r="0.58" fill="#8470c4" opacity="0.52"/>
<circle cx="318.3" cy="448.9" r="0.50" fill="#8470c4" opacity="0.43"/>
<circle cx="315.0" cy="448.4" r="1.99" fill="#6040b8" opacity="0.84"/>
<circle cx="315.1" cy="447.7" r="1.35" fill="#6040b8" opacity="0.84"/>
<circle cx="292.4" cy="458.4" r="1.21" fill="#6040b8" opacity="0.83"/>
<circle cx="291.9" cy="459.0" r="1.43" fill="#6040b8" opacity="0.83"/>
<circle cx="290.3" cy="457.1" r="1.33" fill="#6040b8" opacity="0.83"/>
<circle cx="281.3" cy="448.1" r="1.15" fill="#6040b8" opacity="0.92"/>
<circle cx="281.7" cy="447.3" r="0.87" fill="#6040b8" opacity="0.92"/>
<circle cx="282.3" cy="448.1" r="0.86" fill="#6040b8" opacity="0.92"/>
<circle cx="278.6" cy="455.0" r="0.68" fill="#8470c4" opacity="0.54"/>
<circle cx="277.9" cy="461.9" r="0.56" fill="#8470c4" opacity="0.41"/>
<circle cx="289.0" cy="453.3" r="0.92" fill="#8470c4" opacity="0.41"/>
<circle cx="280.5" cy="490.6" r="1.56" fill="#6040b8" opacity="1.00"/>
<circle cx="309.0" cy="453.0" r="1.31" fill="#6040b8" opacity="0.91"/>
<circle cx="308.7" cy="453.1" r="1.42" fill="#6040b8" opacity="0.91"/>
<circle cx="249.7" cy="458.7" r="1.74" fill="#6040b8" opacity="0.79"/>
<circle cx="251.1" cy="459.6" r="1.33" fill="#6040b8" opacity="0.79"/>
<circle cx="268.5" cy="464.6" r="0.72" fill="#8470c4" opacity="0.32"/>
<circle cx="260.3" cy="445.9" r="1.00" fill="#8470c4" opacity="0.38"/>
<circle cx="288.3" cy="467.4" r="0.68" fill="#8470c4" opacity="0.50"/>
<circle cx="283.7" cy="495.0" r="1.37" fill="#6040b8" opacity="0.89"/>
<circle cx="282.3" cy="494.4" r="1.51" fill="#6040b8" opacity="0.89"/>
<circle cx="266.4" cy="445.2" r="0.79" fill="#8470c4" opacity="0.34"/>
<circle cx="292.0" cy="449.8" r="0.47" fill="#8470c4" opacity="0.61"/>
<circle cx="302.1" cy="434.3" r="1.14" fill="#6040b8" opacity="0.84"/>
<circle cx="287.5" cy="428.2" r="0.98" fill="#6040b8" opacity="0.94"/>
<circle cx="270.0" cy="475.8" r="0.41" fill="#8470c4" opacity="0.32"/>
<circle cx="317.2" cy="462.6" r="0.52" fill="#8470c4" opacity="0.41"/>
<circle cx="268.6" cy="457.7" r="1.05" fill="#8470c4" opacity="0.46"/>
<circle cx="266.8" cy="494.1" r="0.38" fill="#8470c4" opacity="0.48"/>
<circle cx="280.3" cy="456.3" r="0.87" fill="#8470c4" opacity="0.69"/>
<circle cx="256.7" cy="445.0" r="0.64" fill="#8470c4" opacity="0.68"/>
<circle cx="261.3" cy="484.6" r="0.93" fill="#6040b8" opacity="0.80"/>
<circle cx="261.9" cy="484.8" r="1.05" fill="#6040b8" opacity="0.80"/>
<circle cx="315.4" cy="462.1" r="0.50" fill="#8470c4" opacity="0.47"/>
<circle cx="312.6" cy="476.7" r="0.56" fill="#8470c4" opacity="0.31"/>
<circle cx="293.2" cy="480.3" r="1.04" fill="#8470c4" opacity="0.62"/>
<circle cx="283.6" cy="486.3" r="1.29" fill="#6040b8" opacity="0.84"/>
<circle cx="282.4" cy="484.7" r="1.34" fill="#6040b8" opacity="0.84"/>
<circle cx="284.1" cy="484.6" r="1.92" fill="#6040b8" opacity="0.84"/>
<circle cx="277.1" cy="462.4" r="0.53" fill="#8470c4" opacity="0.32"/>
<circle cx="301.2" cy="486.5" r="0.92" fill="#6040b8" opacity="0.86"/>
<circle cx="302.3" cy="486.5" r="0.86" fill="#6040b8" opacity="0.86"/>
<circle cx="290.9" cy="481.9" r="0.65" fill="#8470c4" opacity="0.47"/>
<circle cx="297.0" cy="450.5" r="0.61" fill="#8470c4" opacity="0.40"/>
<circle cx="291.0" cy="464.8" r="0.77" fill="#8470c4" opacity="0.66"/>
<circle cx="305.1" cy="460.4" r="1.04" fill="#8470c4" opacity="0.40"/>
<circle cx="274.4" cy="435.9" r="1.00" fill="#8470c4" opacity="0.41"/>
<circle cx="278.2" cy="455.3" r="0.64" fill="#8470c4" opacity="0.33"/>
<circle cx="270.0" cy="477.3" r="0.56" fill="#8470c4" opacity="0.37"/>
<circle cx="264.6" cy="477.6" r="1.17" fill="#6040b8" opacity="0.81"/>
<circle cx="259.1" cy="448.3" r="0.88" fill="#8470c4" opacity="0.31"/>
<circle cx="268.7" cy="477.2" r="1.04" fill="#6040b8" opacity="0.76"/>
<circle cx="268.0" cy="476.3" r="1.05" fill="#6040b8" opacity="0.76"/>
<circle cx="306.7" cy="446.2" r="0.85" fill="#8470c4" opacity="0.38"/>
<circle cx="257.5" cy="468.9" r="0.62" fill="#8470c4" opacity="0.56"/>
<circle cx="315.3" cy="452.1" r="0.82" fill="#8470c4" opacity="0.48"/>
<circle cx="269.0" cy="473.1" r="1.01" fill="#8470c4" opacity="0.47"/>
<circle cx="292.5" cy="458.8" r="1.06" fill="#6040b8" opacity="0.83"/>
<circle cx="290.9" cy="460.0" r="1.08" fill="#6040b8" opacity="0.83"/>
<circle cx="312.3" cy="463.6" r="0.53" fill="#8470c4" opacity="0.52"/>
<circle cx="269.7" cy="441.6" r="0.77" fill="#8470c4" opacity="0.67"/>
<circle cx="306.1" cy="459.3" r="1.01" fill="#8470c4" opacity="0.44"/>
<circle cx="279.1" cy="433.8" r="1.07" fill="#8470c4" opacity="0.67"/>
<circle cx="300.9" cy="487.5" r="0.77" fill="#8470c4" opacity="0.47"/>
<circle cx="278.5" cy="494.0" r="0.53" fill="#8470c4" opacity="0.41"/>
<circle cx="278.6" cy="477.0" r="0.44" fill="#8470c4" opacity="0.33"/>
<circle cx="296.0" cy="468.3" r="0.43" fill="#8470c4" opacity="0.50"/>
<circle cx="288.3" cy="438.5" r="1.86" fill="#6040b8" opacity="0.97"/>
<circle cx="261.5" cy="482.6" r="0.89" fill="#8470c4" opacity="0.45"/>
<circle cx="269.6" cy="490.8" r="0.97" fill="#8470c4" opacity="0.56"/>
<circle cx="258.7" cy="478.0" r="0.97" fill="#8470c4" opacity="0.66"/>
<circle cx="301.2" cy="479.2" r="0.52" fill="#8470c4" opacity="0.38"/>
<circle cx="313.2" cy="465.8" r="1.08" fill="#8470c4" opacity="0.36"/>
<circle cx="276.5" cy="441.7" r="0.65" fill="#8470c4" opacity="0.72"/>
<circle cx="293.5" cy="462.8" r="0.44" fill="#8470c4" opacity="0.32"/>
<circle cx="278.5" cy="493.7" r="0.44" fill="#8470c4" opacity="0.45"/>
<circle cx="311.9" cy="467.8" r="0.63" fill="#8470c4" opacity="0.44"/>
<circle cx="295.9" cy="431.8" r="0.64" fill="#8470c4" opacity="0.58"/>
<circle cx="289.0" cy="427.6" r="0.87" fill="#8470c4" opacity="0.55"/>
<circle cx="289.8" cy="449.6" r="0.76" fill="#6040b8" opacity="0.98"/>
<circle cx="312.6" cy="466.4" r="1.21" fill="#6040b8" opacity="0.82"/>
<circle cx="294.2" cy="466.3" r="0.58" fill="#8470c4" opacity="0.34"/>
<circle cx="295.9" cy="486.4" r="0.50" fill="#8470c4" opacity="0.69"/>
<circle cx="262.2" cy="465.7" r="0.65" fill="#8470c4" opacity="0.33"/>
<circle cx="257.5" cy="454.2" r="0.56" fill="#8470c4" opacity="0.72"/>
<circle cx="309.4" cy="436.2" r="0.98" fill="#8470c4" opacity="0.63"/>
<circle cx="288.5" cy="468.4" r="0.85" fill="#6040b8" opacity="0.77"/>
<circle cx="287.4" cy="468.3" r="1.04" fill="#6040b8" opacity="0.77"/>
<circle cx="311.8" cy="465.2" r="0.94" fill="#8470c4" opacity="0.63"/>
<circle cx="259.3" cy="482.6" r="0.93" fill="#8470c4" opacity="0.74"/>
<circle cx="314.0" cy="484.4" r="0.88" fill="#8470c4" opacity="0.41"/>
<circle cx="290.2" cy="460.4" r="0.52" fill="#8470c4" opacity="0.47"/>
<circle cx="265.4" cy="484.9" r="0.62" fill="#8470c4" opacity="0.59"/>
<circle cx="273.8" cy="478.6" r="0.59" fill="#8470c4" opacity="0.34"/>
<circle cx="268.8" cy="489.3" r="1.23" fill="#6040b8" opacity="0.89"/>
<circle cx="269.2" cy="490.2" r="1.13" fill="#6040b8" opacity="0.89"/>
<circle cx="269.6" cy="490.1" r="1.36" fill="#6040b8" opacity="0.89"/>
<circle cx="249.9" cy="456.6" r="1.58" fill="#6040b8" opacity="0.83"/>
<circle cx="252.3" cy="454.4" r="1.56" fill="#6040b8" opacity="0.83"/>
<circle cx="251.6" cy="454.3" r="1.45" fill="#6040b8" opacity="0.83"/>
<circle cx="269.9" cy="431.7" r="0.49" fill="#8470c4" opacity="0.46"/>
<circle cx="299.4" cy="462.5" r="0.63" fill="#8470c4" opacity="0.59"/>
<circle cx="292.2" cy="491.1" r="0.99" fill="#8470c4" opacity="0.58"/>
<circle cx="258.6" cy="462.3" r="1.50" fill="#6040b8" opacity="0.92"/>
<circle cx="257.4" cy="462.8" r="1.65" fill="#6040b8" opacity="0.92"/>
<circle cx="279.0" cy="462.8" r="0.69" fill="#8470c4" opacity="0.57"/>
<circle cx="256.1" cy="444.3" r="1.50" fill="#6040b8" opacity="1.00"/>
<circle cx="256.3" cy="444.6" r="0.98" fill="#6040b8" opacity="1.00"/>
<circle cx="257.5" cy="443.8" r="1.05" fill="#6040b8" opacity="1.00"/>
<circle cx="301.2" cy="438.7" r="0.97" fill="#8470c4" opacity="0.66"/>
<circle cx="250.3" cy="460.6" r="1.65" fill="#6040b8" opacity="0.93"/>
<circle cx="296.2" cy="451.4" r="0.83" fill="#8470c4" opacity="0.33"/>
<circle cx="255.2" cy="452.5" r="0.53" fill="#8470c4" opacity="0.66"/>
<circle cx="305.0" cy="438.2" r="1.03" fill="#8470c4" opacity="0.66"/>
<circle cx="298.7" cy="480.8" r="0.64" fill="#6040b8" opacity="0.84"/>
<circle cx="298.1" cy="481.8" r="0.80" fill="#6040b8" opacity="0.84"/>
<circle cx="298.7" cy="480.7" r="0.94" fill="#6040b8" opacity="0.84"/>
<circle cx="293.2" cy="491.1" r="0.90" fill="#8470c4" opacity="0.39"/>
<circle cx="273.4" cy="442.8" r="1.18" fill="#6040b8" opacity="0.83"/>
<circle cx="273.2" cy="441.9" r="1.18" fill="#6040b8" opacity="0.83"/>
<circle cx="271.8" cy="467.6" r="1.86" fill="#6040b8" opacity="0.90"/>
<circle cx="273.4" cy="465.7" r="1.54" fill="#6040b8" opacity="0.90"/>
<circle cx="273.9" cy="471.0" r="0.67" fill="#8470c4" opacity="0.67"/>
<circle cx="264.9" cy="476.7" r="1.06" fill="#8470c4" opacity="0.46"/>
<circle cx="280.4" cy="446.5" r="0.56" fill="#8470c4" opacity="0.69"/>
<circle cx="277.9" cy="496.1" r="0.69" fill="#8470c4" opacity="0.72"/>
<circle cx="261.7" cy="483.7" r="0.69" fill="#8470c4" opacity="0.33"/>
<circle cx="268.7" cy="472.8" r="1.07" fill="#8470c4" opacity="0.43"/>
<circle cx="275.4" cy="435.4" r="0.66" fill="#8470c4" opacity="0.36"/>
<circle cx="299.9" cy="452.3" r="0.61" fill="#8470c4" opacity="0.67"/>
<circle cx="301.9" cy="440.8" r="0.42" fill="#8470c4" opacity="0.70"/>
<circle cx="304.1" cy="474.9" r="0.89" fill="#8470c4" opacity="0.60"/>
<circle cx="266.4" cy="492.0" r="0.37" fill="#8470c4" opacity="0.58"/>
<circle cx="264.1" cy="467.6" r="0.59" fill="#8470c4" opacity="0.60"/>
<circle cx="257.3" cy="441.4" r="1.09" fill="#8470c4" opacity="0.48"/>
<circle cx="299.4" cy="437.6" r="1.10" fill="#8470c4" opacity="0.33"/>
<circle cx="263.1" cy="468.8" r="0.51" fill="#8470c4" opacity="0.75"/>
<circle cx="290.4" cy="485.1" r="1.20" fill="#6040b8" opacity="0.94"/>
<circle cx="284.6" cy="445.1" r="0.90" fill="#8470c4" opacity="0.65"/>
<circle cx="302.3" cy="480.0" r="1.64" fill="#6040b8" opacity="0.99"/>
<circle cx="303.7" cy="479.3" r="1.85" fill="#6040b8" opacity="0.99"/>
<circle cx="303.1" cy="480.4" r="1.31" fill="#6040b8" opacity="0.99"/>
<circle cx="273.0" cy="457.8" r="0.97" fill="#6040b8" opacity="0.82"/>
<circle cx="273.0" cy="457.9" r="1.29" fill="#6040b8" opacity="0.82"/>
<circle cx="273.5" cy="458.8" r="1.00" fill="#6040b8" opacity="0.82"/>
<circle cx="293.9" cy="451.8" r="0.74" fill="#8470c4" opacity="0.48"/>
<circle cx="259.8" cy="441.5" r="0.66" fill="#8470c4" opacity="0.30"/>
<circle cx="304.2" cy="490.4" r="0.88" fill="#8470c4" opacity="0.37"/>
<circle cx="280.1" cy="461.4" r="0.99" fill="#6040b8" opacity="0.99"/>
<circle cx="278.7" cy="461.8" r="0.83" fill="#6040b8" opacity="0.99"/>
<circle cx="303.7" cy="453.2" r="0.84" fill="#8470c4" opacity="0.70"/>
<circle cx="311.3" cy="454.4" r="1.03" fill="#8470c4" opacity="0.48"/>
<circle cx="276.0" cy="493.1" r="0.63" fill="#8470c4" opacity="0.49"/>
<circle cx="264.0" cy="466.5" r="0.69" fill="#8470c4" opacity="0.32"/>
<circle cx="290.1" cy="455.7" r="0.76" fill="#8470c4" opacity="0.48"/>
<circle cx="287.5" cy="474.7" r="0.59" fill="#8470c4" opacity="0.52"/>
<circle cx="289.4" cy="494.6" r="0.36" fill="#8470c4" opacity="0.48"/>
<circle cx="288.5" cy="462.8" r="1.07" fill="#8470c4" opacity="0.46"/>
<circle cx="267.5" cy="450.7" r="0.81" fill="#8470c4" opacity="0.57"/>
<circle cx="275.3" cy="486.9" r="0.92" fill="#8470c4" opacity="0.32"/>
<circle cx="300.7" cy="473.4" r="0.95" fill="#8470c4" opacity="0.49"/>
<circle cx="300.2" cy="445.7" r="0.86" fill="#8470c4" opacity="0.34"/>
<circle cx="318.4" cy="460.1" r="0.59" fill="#8470c4" opacity="0.67"/>
<circle cx="292.6" cy="436.3" r="1.62" fill="#6040b8" opacity="0.76"/>
<circle cx="291.2" cy="436.3" r="1.71" fill="#6040b8" opacity="0.76"/>
</g></g>
<clipPath id="clip12"><circle cx="369.3" cy="463.5" r="35.5"/></clipPath>
<circle cx="369.3" cy="463.5" r="35.5" fill="#c3c8c7" filter="url(#pgrain12)"/>
<g clip-path="url(#clip12)"><g filter="url(#pblur)">
<circle cx="340.3" cy="468.2" r="0.46" fill="#7c64c2" opacity="0.30"/>
<circle cx="355.9" cy="476.9" r="0.87" fill="#7c64c2" opacity="0.57"/>
<circle cx="340.9" cy="453.6" r="0.93" fill="#5c3ab6" opacity="0.79"/>
<circle cx="342.2" cy="452.6" r="1.12" fill="#5c3ab6" opacity="0.79"/>
<circle cx="342.5" cy="452.0" r="0.92" fill="#5c3ab6" opacity="0.79"/>
<circle cx="391.3" cy="449.2" r="1.58" fill="#5c3ab6" opacity="0.99"/>
<circle cx="358.7" cy="453.4" r="0.39" fill="#7c64c2" opacity="0.38"/>
<circle cx="378.5" cy="442.5" r="0.80" fill="#7c64c2" opacity="0.51"/>
<circle cx="364.6" cy="467.7" r="1.08" fill="#7c64c2" opacity="0.74"/>
<circle cx="358.1" cy="445.0" r="0.87" fill="#7c64c2" opacity="0.60"/>
<circle cx="382.6" cy="475.0" r="0.73" fill="#7c64c2" opacity="0.66"/>
<circle cx="363.2" cy="463.5" r="0.67" fill="#7c64c2" opacity="0.53"/>
<circle cx="373.4" cy="486.8" r="0.93" fill="#7c64c2" opacity="0.35"/>
<circle cx="354.8" cy="458.8" r="0.38" fill="#7c64c2" opacity="0.42"/>
<circle cx="353.1" cy="488.4" r="1.19" fill="#5c3ab6" opacity="0.80"/>
<circle cx="383.6" cy="459.4" r="0.62" fill="#7c64c2" opacity="0.39"/>
<circle cx="368.5" cy="428.1" r="0.77" fill="#5c3ab6" opacity="0.94"/>
<circle cx="369.2" cy="429.8" r="1.25" fill="#5c3ab6" opacity="0.94"/>
<circle cx="363.7" cy="463.4" r="0.94" fill="#7c64c2" opacity="0.67"/>
<circle cx="358.2" cy="450.2" r="0.71" fill="#7c64c2" opacity="0.58"/>
<circle cx="366.5" cy="498.6" r="0.47" fill="#7c64c2" opacity="0.43"/>
<circle cx="382.7" cy="449.8" r="0.74" fill="#7c64c2" opacity="0.61"/>
<circle cx="364.6" cy="447.4" r="0.54" fill="#7c64c2" opacity="0.61"/>
<circle cx="364.8" cy="451.2" r="0.67" fill="#7c64c2" opacity="0.41"/>
<circle cx="336.4" cy="477.7" r="0.82" fill="#7c64c2" opacity="0.71"/>
<circle cx="400.0" cy="456.0" r="0.79" fill="#7c64c2" opacity="0.71"/>
<circle cx="376.0" cy="436.8" r="0.63" fill="#7c64c2" opacity="0.63"/>
<circle cx="364.9" cy="461.7" r="1.03" fill="#7c64c2" opacity="0.66"/>
<circle cx="396.9" cy="442.8" r="0.94" fill="#7c64c2" opacity="0.47"/>
<circle cx="386.8" cy="476.0" r="1.05" fill="#7c64c2" opacity="0.61"/>
<circle cx="341.1" cy="455.9" r="1.16" fill="#5c3ab6" opacity="0.93"/>
<circle cx="342.1" cy="455.3" r="1.01" fill="#5c3ab6" opacity="0.93"/>
<circle cx="357.7" cy="491.4" r="0.84" fill="#7c64c2" opacity="0.72"/>
<circle cx="365.2" cy="468.2" r="0.68" fill="#7c64c2" opacity="0.38"/>
<circle cx="358.8" cy="445.1" r="0.60" fill="#7c64c2" opacity="0.72"/>
<circle cx="391.0" cy="464.6" r="0.50" fill="#7c64c2" opacity="0.49"/>
<circle cx="375.7" cy="497.6" r="0.87" fill="#7c64c2" opacity="0.37"/>
<circle cx="341.8" cy="469.7" r="0.54" fill="#7c64c2" opacity="0.51"/>
<circle cx="389.5" cy="437.4" r="0.75" fill="#7c64c2" opacity="0.64"/>
<circle cx="345.8" cy="481.7" r="1.08" fill="#7c64c2" opacity="0.55"/>
<circle cx="360.3" cy="444.1" r="0.59" fill="#7c64c2" opacity="0.52"/>
<circle cx="355.7" cy="479.4" r="0.85" fill="#5c3ab6" opacity="0.89"/>
<circle cx="395.1" cy="452.6" r="1.00" fill="#7c64c2" opacity="0.70"/>
<circle cx="363.8" cy="475.1" r="0.98" fill="#7c64c2" opacity="0.57"/>
<circle cx="374.3" cy="440.8" r="0.55" fill="#7c64c2" opacity="0.48"/>
<circle cx="353.0" cy="478.9" r="0.96" fill="#7c64c2" opacity="0.38"/>
<circle cx="374.4" cy="481.1" r="0.74" fill="#7c64c2" opacity="0.32"/>
<circle cx="386.6" cy="434.4" r="0.62" fill="#7c64c2" opacity="0.63"/>
<circle cx="364.7" cy="476.1" r="0.97" fill="#7c64c2" opacity="0.40"/>
<circle cx="373.4" cy="459.6" r="0.36" fill="#7c64c2" opacity="0.38"/>
<circle cx="385.2" cy="489.7" r="0.49" fill="#7c64c2" opacity="0.38"/>
<circle cx="356.5" cy="494.6" r="0.43" fill="#7c64c2" opacity="0.61"/>
<circle cx="345.7" cy="458.0" r="0.84" fill="#7c64c2" opacity="0.66"/>
<circle cx="340.4" cy="462.5" r="0.83" fill="#7c64c2" opacity="0.47"/>
<circle cx="346.9" cy="476.8" r="0.56" fill="#7c64c2" opacity="0.72"/>
<circle cx="335.9" cy="465.3" r="1.07" fill="#7c64c2" opacity="0.61"/>
<circle cx="348.6" cy="473.7" r="0.92" fill="#7c64c2" opacity="0.68"/>
<circle cx="375.2" cy="469.5" r="0.88" fill="#5c3ab6" opacity="0.76"/>
<circle cx="342.7" cy="439.8" r="0.91" fill="#7c64c2" opacity="0.73"/>
<circle cx="386.3" cy="466.5" r="0.71" fill="#7c64c2" opacity="0.39"/>
<circle cx="370.3" cy="440.0" r="0.59" fill="#7c64c2" opacity="0.41"/>
<circle cx="393.4" cy="478.2" r="1.09" fill="#7c64c2" opacity="0.64"/>
<circle cx="389.2" cy="454.6" r="1.04" fill="#7c64c2" opacity="0.57"/>
<circle cx="367.3" cy="460.0" r="0.71" fill="#7c64c2" opacity="0.63"/>
<circle cx="383.7" cy="435.5" r="0.64" fill="#7c64c2" opacity="0.69"/>
<circle cx="393.8" cy="461.6" r="1.45" fill="#5c3ab6" opacity="0.88"/>
<circle cx="393.6" cy="461.9" r="1.68" fill="#5c3ab6" opacity="0.88"/>
<circle cx="368.7" cy="445.3" r="0.43" fill="#7c64c2" opacity="0.63"/>
<circle cx="359.1" cy="452.4" r="0.80" fill="#7c64c2" opacity="0.56"/>
<circle cx="354.7" cy="477.4" r="1.10" fill="#7c64c2" opacity="0.45"/>
<circle cx="344.5" cy="462.8" r="1.38" fill="#5c3ab6" opacity="0.80"/>
<circle cx="363.2" cy="483.5" r="0.65" fill="#7c64c2" opacity="0.53"/>
<circle cx="363.4" cy="455.6" r="0.43" fill="#7c64c2" opacity="0.41"/>
<circle cx="382.5" cy="430.0" r="0.48" fill="#7c64c2" opacity="0.50"/>
<circle cx="362.5" cy="496.0" r="0.50" fill="#7c64c2" opacity="0.59"/>
<circle cx="351.2" cy="442.4" r="1.07" fill="#7c64c2" opacity="0.51"/>
<circle cx="390.2" cy="454.8" r="0.62" fill="#7c64c2" opacity="0.62"/>
<circle cx="369.5" cy="445.8" r="0.89" fill="#7c64c2" opacity="0.53"/>
<circle cx="354.4" cy="439.3" r="0.62" fill="#7c64c2" opacity="0.44"/>
<circle cx="403.1" cy="468.8" r="0.64" fill="#7c64c2" opacity="0.74"/>
<circle cx="380.8" cy="455.4" r="0.67" fill="#7c64c2" opacity="0.44"/>
<circle cx="367.5" cy="486.2" r="0.90" fill="#5c3ab6" opacity="0.78"/>
<circle cx="350.9" cy="480.9" r="1.05" fill="#7c64c2" opacity="0.37"/>
<circle cx="373.9" cy="496.8" r="1.05" fill="#7c64c2" opacity="0.54"/>
<circle cx="358.7" cy="475.2" r="0.92" fill="#7c64c2" opacity="0.55"/>
<circle cx="374.1" cy="445.6" r="1.03" fill="#7c64c2" opacity="0.35"/>
<circle cx="357.8" cy="453.0" r="0.98" fill="#7c64c2" opacity="0.59"/>
<circle cx="364.4" cy="465.6" r="0.62" fill="#7c64c2" opacity="0.48"/>
<circle cx="400.0" cy="479.8" r="0.77" fill="#7c64c2" opacity="0.68"/>
<circle cx="390.7" cy="447.2" r="0.99" fill="#7c64c2" opacity="0.47"/>
<circle cx="373.9" cy="460.2" r="0.75" fill="#7c64c2" opacity="0.58"/>
<circle cx="386.2" cy="462.5" r="0.95" fill="#7c64c2" opacity="0.64"/>
<circle cx="337.8" cy="458.7" r="1.00" fill="#7c64c2" opacity="0.59"/>
<circle cx="356.1" cy="478.3" r="0.69" fill="#5c3ab6" opacity="0.76"/>
<circle cx="357.3" cy="478.2" r="0.71" fill="#5c3ab6" opacity="0.76"/>
<circle cx="357.1" cy="478.7" r="1.05" fill="#5c3ab6" opacity="0.76"/>
<circle cx="373.1" cy="486.2" r="0.56" fill="#7c64c2" opacity="0.56"/>
<circle cx="359.8" cy="433.6" r="0.91" fill="#7c64c2" opacity="0.43"/>
<circle cx="369.6" cy="439.7" r="0.71" fill="#5c3ab6" opacity="0.91"/>
<circle cx="369.9" cy="439.8" r="0.76" fill="#5c3ab6" opacity="0.91"/>
<circle cx="334.0" cy="456.8" r="0.57" fill="#7c64c2" opacity="0.69"/>
<circle cx="355.7" cy="495.1" r="0.85" fill="#5c3ab6" opacity="0.98"/>
<circle cx="356.2" cy="494.9" r="0.88" fill="#5c3ab6" opacity="0.98"/>
<circle cx="339.6" cy="477.3" r="1.10" fill="#7c64c2" opacity="0.65"/>
<circle cx="337.4" cy="476.8" r="0.39" fill="#7c64c2" opacity="0.73"/>
<circle cx="390.9" cy="443.5" r="0.50" fill="#7c64c2" opacity="0.40"/>
<circle cx="379.4" cy="468.1" r="1.02" fill="#7c64c2" opacity="0.72"/>
<circle cx="339.7" cy="460.8" r="0.93" fill="#7c64c2" opacity="0.62"/>
<circle cx="402.4" cy="460.3" r="0.79" fill="#7c64c2" opacity="0.38"/>
<circle cx="345.7" cy="467.5" r="1.16" fill="#5c3ab6" opacity="0.85"/>
<circle cx="358.8" cy="439.7" r="0.64" fill="#7c64c2" opacity="0.39"/>
<circle cx="403.0" cy="455.5" r="0.84" fill="#7c64c2" opacity="0.36"/>
<circle cx="355.0" cy="459.7" r="0.79" fill="#7c64c2" opacity="0.38"/>
<circle cx="372.6" cy="494.3" r="1.02" fill="#7c64c2" opacity="0.37"/>
<circle cx="399.1" cy="482.0" r="0.87" fill="#7c64c2" opacity="0.55"/>
<circle cx="390.6" cy="492.3" r="1.03" fill="#7c64c2" opacity="0.37"/>
<circle cx="365.1" cy="490.0" r="0.99" fill="#7c64c2" opacity="0.42"/>
<circle cx="382.2" cy="470.5" r="1.06" fill="#7c64c2" opacity="0.70"/>
<circle cx="357.7" cy="443.8" r="1.33" fill="#5c3ab6" opacity="0.78"/>
<circle cx="400.4" cy="476.5" r="1.80" fill="#5c3ab6" opacity="0.79"/>
<circle cx="384.2" cy="440.4" r="0.83" fill="#5c3ab6" opacity="0.82"/>
<circle cx="384.2" cy="440.6" r="0.71" fill="#5c3ab6" opacity="0.82"/>
<circle cx="383.1" cy="441.7" r="0.80" fill="#5c3ab6" opacity="0.82"/>
<circle cx="367.1" cy="451.2" r="0.48" fill="#7c64c2" opacity="0.57"/>
<circle cx="367.7" cy="429.6" r="1.09" fill="#7c64c2" opacity="0.48"/>
<circle cx="402.2" cy="452.7" r="0.43" fill="#7c64c2" opacity="0.42"/>
<circle cx="358.0" cy="431.4" r="0.93" fill="#7c64c2" opacity="0.51"/>
<circle cx="380.5" cy="464.5" r="0.91" fill="#5c3ab6" opacity="0.98"/>
<circle cx="380.2" cy="464.0" r="1.05" fill="#5c3ab6" opacity="0.98"/>
<circle cx="379.2" cy="464.4" r="0.79" fill="#5c3ab6" opacity="0.98"/>
<circle cx="341.0" cy="473.6" r="0.97" fill="#7c64c2" opacity="0.44"/>
<circle cx="359.6" cy="493.6" r="1.36" fill="#5c3ab6" opacity="0.83"/>
<circle cx="359.1" cy="491.8" r="1.33" fill="#5c3ab6" opacity="0.83"/>
<circle cx="343.2" cy="437.5" r="1.16" fill="#5c3ab6" opacity="0.84"/>
<circle cx="369.3" cy="473.0" r="1.45" fill="#5c3ab6" opacity="0.93"/>
<circle cx="367.2" cy="473.7" r="1.84" fill="#5c3ab6" opacity="0.93"/>
<circle cx="369.1" cy="471.2" r="1.93" fill="#5c3ab6" opacity="0.93"/>
<circle cx="358.8" cy="461.1" r="1.08" fill="#7c64c2" opacity="0.58"/>
<circle cx="378.0" cy="469.1" r="0.61" fill="#7c64c2" opacity="0.52"/>
<circle cx="379.3" cy="475.1" r="0.67" fill="#7c64c2" opacity="0.38"/>
<circle cx="383.7" cy="483.5" r="0.87" fill="#5c3ab6" opacity="0.87"/>
<circle cx="383.4" cy="459.1" r="0.66" fill="#7c64c2" opacity="0.33"/>
<circle cx="373.9" cy="457.9" r="0.86" fill="#7c64c2" opacity="0.74"/>
<circle cx="401.1" cy="476.1" r="0.93" fill="#7c64c2" opacity="0.56"/>
<circle cx="354.3" cy="443.3" r="0.78" fill="#7c64c2" opacity="0.55"/>
<circle cx="345.6" cy="479.6" r="1.06" fill="#7c64c2" opacity="0.65"/>
<circle cx="354.5" cy="490.4" r="0.71" fill="#7c64c2" opacity="0.54"/>
<circle cx="368.0" cy="454.5" r="0.88" fill="#5c3ab6" opacity="0.90"/>
<circle cx="373.9" cy="491.1" r="0.68" fill="#7c64c2" opacity="0.38"/>
<circle cx="360.6" cy="444.1" r="0.72" fill="#7c64c2" opacity="0.61"/>
<circle cx="402.1" cy="446.4" r="1.87" fill="#5c3ab6" opacity="0.78"/>
<circle cx="401.4" cy="447.0" r="1.79" fill="#5c3ab6" opacity="0.78"/>
<circle cx="401.1" cy="447.6" r="1.85" fill="#5c3ab6" opacity="0.78"/>
<circle cx="398.2" cy="464.5" r="1.00" fill="#7c64c2" opacity="0.54"/>
<circle cx="354.9" cy="459.6" r="1.75" fill="#5c3ab6" opacity="0.77"/>
<circle cx="354.6" cy="459.8" r="1.90" fill="#5c3ab6" opacity="0.77"/>
<circle cx="355.6" cy="459.0" r="1.29" fill="#5c3ab6" opacity="0.77"/>
<circle cx="380.4" cy="459.8" r="0.83" fill="#7c64c2" opacity="0.43"/>
<circle cx="341.3" cy="452.8" r="0.53" fill="#7c64c2" opacity="0.72"/>
<circle cx="375.9" cy="487.9" r="0.93" fill="#7c64c2" opacity="0.69"/>
<circle cx="371.8" cy="434.9" r="0.42" fill="#7c64c2" opacity="0.56"/>
<circle cx="340.6" cy="476.4" r="0.44" fill="#7c64c2" opacity="0.47"/>
<circle cx="381.8" cy="441.2" r="0.39" fill="#7c64c2" opacity="0.40"/>
<circle cx="366.0" cy="488.6" r="1.80" fill="#5c3ab6" opacity="0.83"/>
<circle cx="373.5" cy="453.7" r="0.99" fill="#7c64c2" opacity="0.53"/>
<circle cx="357.2" cy="447.6" r="0.72" fill="#5c3ab6" opacity="0.99"/>
<circle cx="357.5" cy="447.0" r="0.82" fill="#5c3ab6" opacity="0.99"/>
<circle cx="356.8" cy="447.6" r="0.78" fill="#5c3ab6" opacity="0.99"/>
<circle cx="386.5" cy="441.6" r="1.26" fill="#5c3ab6" opacity="0.84"/>
<circle cx="385.6" cy="439.8" r="1.84" fill="#5c3ab6" opacity="0.84"/>
<circle cx="341.6" cy="484.2" r="0.66" fill="#7c64c2" opacity="0.64"/>
<circle cx="364.0" cy="452.3" r="0.45" fill="#7c64c2" opacity="0.67"/>
<circle cx="353.6" cy="475.6" r="1.09" fill="#7c64c2" opacity="0.36"/>
<circle cx="363.1" cy="447.3" r="0.91" fill="#7c64c2" opacity="0.65"/>
<circle cx="358.3" cy="457.2" r="0.43" fill="#7c64c2" opacity="0.56"/>
<circle cx="387.4" cy="458.7" r="0.86" fill="#7c64c2" opacity="0.59"/>
<circle cx="358.9" cy="484.4" r="0.89" fill="#7c64c2" opacity="0.38"/>
<circle cx="355.0" cy="433.3" r="1.02" fill="#7c64c2" opacity="0.42"/>
<circle cx="361.0" cy="496.2" r="0.45" fill="#7c64c2" opacity="0.37"/>
<circle cx="392.3" cy="441.5" r="1.68" fill="#5c3ab6" opacity="0.80"/>
<circle cx="393.6" cy="441.7" r="1.21" fill="#5c3ab6" opacity="0.80"/>
<circle cx="338.4" cy="471.9" r="0.91" fill="#7c64c2" opacity="0.57"/>
<circle cx="380.4" cy="434.4" r="0.96" fill="#7c64c2" opacity="0.67"/>
<circle cx="341.8" cy="477.1" r="0.78" fill="#7c64c2" opacity="0.45"/>
<circle cx="349.8" cy="468.3" r="0.81" fill="#7c64c2" opacity="0.58"/>
<circle cx="344.9" cy="459.1" r="1.50" fill="#5c3ab6" opacity="0.86"/>
<circle cx="345.6" cy="459.7" r="1.16" fill="#5c3ab6" opacity="0.86"/>
<circle cx="397.2" cy="457.8" r="0.42" fill="#7c64c2" opacity="0.56"/>
<circle cx="375.9" cy="497.2" r="0.56" fill="#7c64c2" opacity="0.48"/>
<circle cx="384.0" cy="472.4" r="1.01" fill="#7c64c2" opacity="0.49"/>
<circle cx="387.0" cy="459.5" r="1.37" fill="#5c3ab6" opacity="0.84"/>
<circle cx="391.3" cy="480.8" r="0.77" fill="#7c64c2" opacity="0.37"/>
<circle cx="384.5" cy="445.3" r="1.01" fill="#7c64c2" opacity="0.36"/>
<circle cx="345.7" cy="464.1" r="0.52" fill="#7c64c2" opacity="0.41"/>
<circle cx="373.2" cy="490.3" r="1.05" fill="#7c64c2" opacity="0.69"/>
<circle cx="366.0" cy="440.6" r="0.78" fill="#7c64c2" opacity="0.65"/>
<circle cx="381.4" cy="460.0" r="1.03" fill="#7c64c2" opacity="0.48"/>
<circle cx="365.8" cy="468.9" r="0.51" fill="#7c64c2" opacity="0.30"/>
<circle cx="391.3" cy="477.3" r="1.03" fill="#7c64c2" opacity="0.60"/>
<circle cx="397.3" cy="484.3" r="0.96" fill="#7c64c2" opacity="0.71"/>
<circle cx="384.6" cy="437.8" r="0.37" fill="#7c64c2" opacity="0.75"/>
<circle cx="392.9" cy="464.2" r="0.73" fill="#7c64c2" opacity="0.45"/>
<circle cx="349.0" cy="462.5" r="0.37" fill="#7c64c2" opacity="0.46"/>
<circle cx="355.6" cy="443.3" r="1.49" fill="#5c3ab6" opacity="0.98"/>
<circle cx="355.1" cy="444.2" r="1.27" fill="#5c3ab6" opacity="0.98"/>
<circle cx="378.1" cy="442.6" r="1.09" fill="#7c64c2" opacity="0.70"/>
<circle cx="387.6" cy="451.5" r="1.02" fill="#7c64c2" opacity="0.67"/>
<circle cx="345.9" cy="449.1" r="1.08" fill="#5c3ab6" opacity="0.76"/>
<circle cx="346.1" cy="449.5" r="1.35" fill="#5c3ab6" opacity="0.76"/>
<circle cx="393.7" cy="491.0" r="0.92" fill="#5c3ab6" opacity="0.93"/>
<circle cx="393.4" cy="489.7" r="1.21" fill="#5c3ab6" opacity="0.93"/>
<circle cx="341.3" cy="469.8" r="0.73" fill="#7c64c2" opacity="0.49"/>
<circle cx="355.4" cy="458.3" r="0.64" fill="#7c64c2" opacity="0.52"/>
<circle cx="387.1" cy="435.6" r="0.88" fill="#7c64c2" opacity="0.54"/>
<circle cx="340.4" cy="477.2" r="0.36" fill="#7c64c2" opacity="0.55"/>
<circle cx="358.7" cy="444.6" r="0.91" fill="#7c64c2" opacity="0.70"/>
<circle cx="361.6" cy="491.9" r="0.61" fill="#7c64c2" opacity="0.43"/>
<circle cx="397.5" cy="480.9" r="0.61" fill="#7c64c2" opacity="0.41"/>
<circle cx="345.4" cy="454.6" r="0.41" fill="#7c64c2" opacity="0.45"/>
<circle cx="385.4" cy="436.3" r="1.08" fill="#5c3ab6" opacity="1.00"/>
<circle cx="384.9" cy="436.6" r="0.96" fill="#5c3ab6" opacity="1.00"/>
<circle cx="386.8" cy="435.7" r="1.39" fill="#5c3ab6" opacity="1.00"/>
<circle cx="335.3" cy="468.6" r="0.48" fill="#7c64c2" opacity="0.31"/>
<circle cx="382.6" cy="488.4" r="0.69" fill="#5c3ab6" opacity="0.85"/>
<circle cx="374.0" cy="445.6" r="0.65" fill="#7c64c2" opacity="0.68"/>
<circle cx="400.5" cy="473.7" r="1.89" fill="#5c3ab6" opacity="0.89"/>
<circle cx="399.4" cy="472.2" r="2.08" fill="#5c3ab6" opacity="0.89"/>
<circle cx="399.6" cy="472.4" r="1.34" fill="#5c3ab6" opacity="0.89"/>
<circle cx="362.0" cy="431.5" r="1.47" fill="#5c3ab6" opacity="0.78"/>
<circle cx="361.9" cy="433.0" r="1.42" fill="#5c3ab6" opacity="0.78"/>
<circle cx="373.2" cy="499.1" r="0.43" fill="#7c64c2" opacity="0.72"/>
<circle cx="384.3" cy="456.0" r="1.00" fill="#7c64c2" opacity="0.44"/>
<circle cx="367.9" cy="464.9" r="1.28" fill="#5c3ab6" opacity="0.87"/>
<circle cx="367.2" cy="465.4" r="1.48" fill="#5c3ab6" opacity="0.87"/>
<circle cx="367.3" cy="465.7" r="1.69" fill="#5c3ab6" opacity="0.87"/>
<circle cx="362.6" cy="444.2" r="0.43" fill="#7c64c2" opacity="0.35"/>
<circle cx="380.3" cy="435.1" r="0.77" fill="#7c64c2" opacity="0.46"/>
<circle cx="382.8" cy="441.3" r="0.90" fill="#7c64c2" opacity="0.45"/>
<circle cx="377.8" cy="443.9" r="0.98" fill="#7c64c2" opacity="0.73"/>
<circle cx="357.8" cy="452.1" r="1.77" fill="#5c3ab6" opacity="0.83"/>
<circle cx="380.4" cy="486.9" r="0.48" fill="#7c64c2" opacity="0.47"/>
<circle cx="359.3" cy="471.3" r="0.94" fill="#5c3ab6" opacity="0.89"/>
<circle cx="387.7" cy="438.3" r="0.54" fill="#7c64c2" opacity="0.53"/>
<circle cx="350.5" cy="438.1" r="0.35" fill="#7c64c2" opacity="0.37"/>
<circle cx="396.1" cy="462.8" r="0.44" fill="#7c64c2" opacity="0.65"/>
<circle cx="378.6" cy="445.6" r="0.40" fill="#7c64c2" opacity="0.44"/>
<circle cx="345.8" cy="462.1" r="0.82" fill="#5c3ab6" opacity="0.81"/>
<circle cx="345.0" cy="462.1" r="0.93" fill="#5c3ab6" opacity="0.81"/>
<circle cx="345.4" cy="461.9" r="1.00" fill="#5c3ab6" opacity="0.81"/>
<circle cx="351.2" cy="460.5" r="1.05" fill="#7c64c2" opacity="0.40"/>
<circle cx="345.6" cy="484.5" r="0.39" fill="#7c64c2" opacity="0.66"/>
<circle cx="370.3" cy="475.7" r="1.46" fill="#5c3ab6" opacity="0.86"/>
<circle cx="390.6" cy="463.2" r="0.70" fill="#5c3ab6" opacity="0.88"/>
<circle cx="389.7" cy="464.0" r="0.90" fill="#5c3ab6" opacity="0.88"/>
<circle cx="362.1" cy="448.1" r="0.92" fill="#7c64c2" opacity="0.59"/>
<circle cx="365.6" cy="484.6" r="0.39" fill="#7c64c2" opacity="0.59"/>
<circle cx="362.2" cy="438.5" r="1.04" fill="#7c64c2" opacity="0.45"/>
<circle cx="369.7" cy="432.7" r="0.40" fill="#7c64c2" opacity="0.61"/>
<circle cx="360.0" cy="472.7" r="0.55" fill="#7c64c2" opacity="0.51"/>
<circle cx="365.0" cy="474.8" r="0.81" fill="#7c64c2" opacity="0.59"/>
<circle cx="369.1" cy="449.4" r="0.97" fill="#7c64c2" opacity="0.54"/>
<circle cx="367.6" cy="439.0" r="0.37" fill="#7c64c2" opacity="0.68"/>
<circle cx="394.6" cy="446.3" r="0.82" fill="#7c64c2" opacity="0.61"/>
<circle cx="364.9" cy="485.3" r="0.55" fill="#7c64c2" opacity="0.57"/>
<circle cx="374.5" cy="464.5" r="1.07" fill="#5c3ab6" opacity="0.98"/>
<circle cx="373.9" cy="464.3" r="0.95" fill="#5c3ab6" opacity="0.98"/>
<circle cx="367.8" cy="495.5" r="0.83" fill="#7c64c2" opacity="0.43"/>
<circle cx="359.8" cy="471.1" r="1.09" fill="#7c64c2" opacity="0.60"/>
<circle cx="354.4" cy="488.1" r="0.96" fill="#7c64c2" opacity="0.54"/>
<circle cx="374.5" cy="469.4" r="1.64" fill="#5c3ab6" opacity="0.95"/>
<circle cx="372.5" cy="469.1" r="1.67" fill="#5c3ab6" opacity="0.95"/>
<circle cx="372.5" cy="470.1" r="1.46" fill="#5c3ab6" opacity="0.95"/>
<circle cx="384.0" cy="447.8" r="0.86" fill="#7c64c2" opacity="0.37"/>
<circle cx="403.8" cy="459.0" r="0.81" fill="#7c64c2" opacity="0.38"/>
<circle cx="378.6" cy="492.7" r="0.88" fill="#7c64c2" opacity="0.39"/>
<circle cx="338.9" cy="449.4" r="0.98" fill="#7c64c2" opacity="0.36"/>
<circle cx="365.6" cy="457.1" r="0.40" fill="#7c64c2" opacity="0.39"/>
<circle cx="337.2" cy="457.4" r="1.04" fill="#7c64c2" opacity="0.41"/>
<circle cx="391.1" cy="454.4" r="0.89" fill="#7c64c2" opacity="0.42"/>
<circle cx="364.7" cy="487.0" r="0.90" fill="#7c64c2" opacity="0.69"/>
<circle cx="365.1" cy="456.7" r="0.93" fill="#7c64c2" opacity="0.74"/>
<circle cx="382.5" cy="495.9" r="0.77" fill="#7c64c2" opacity="0.39"/>
<circle cx="369.1" cy="487.0" r="0.54" fill="#7c64c2" opacity="0.55"/>
<circle cx="354.1" cy="471.1" r="0.59" fill="#7c64c2" opacity="0.32"/>
<circle cx="370.6" cy="487.0" r="0.40" fill="#7c64c2" opacity="0.70"/>
<circle cx="399.5" cy="479.7" r="1.21" fill="#5c3ab6" opacity="0.83"/>
<circle cx="401.0" cy="479.5" r="0.83" fill="#5c3ab6" opacity="0.83"/>
<circle cx="400.0" cy="480.0" r="1.13" fill="#5c3ab6" opacity="0.83"/>
<circle cx="396.3" cy="453.2" r="0.52" fill="#7c64c2" opacity="0.33"/>
<circle cx="399.9" cy="477.4" r="0.63" fill="#7c64c2" opacity="0.40"/>
<circle cx="380.6" cy="450.3" r="1.02" fill="#7c64c2" opacity="0.31"/>
<circle cx="359.5" cy="476.4" r="1.05" fill="#7c64c2" opacity="0.73"/>
<circle cx="370.0" cy="430.2" r="0.90" fill="#7c64c2" opacity="0.63"/>
<circle cx="387.3" cy="451.1" r="0.49" fill="#7c64c2" opacity="0.56"/>
<circle cx="398.9" cy="453.5" r="0.49" fill="#7c64c2" opacity="0.47"/>
<circle cx="339.2" cy="451.3" r="0.75" fill="#7c64c2" opacity="0.64"/>
<circle cx="362.5" cy="445.7" r="1.33" fill="#5c3ab6" opacity="0.80"/>
<circle cx="363.2" cy="445.9" r="0.97" fill="#5c3ab6" opacity="0.80"/>
<circle cx="375.6" cy="462.3" r="1.17" fill="#5c3ab6" opacity="0.96"/>
<circle cx="342.0" cy="473.9" r="0.71" fill="#7c64c2" opacity="0.42"/>
<circle cx="346.9" cy="438.5" r="1.61" fill="#5c3ab6" opacity="0.85"/>
<circle cx="347.1" cy="454.8" r="0.97" fill="#7c64c2" opacity="0.48"/>
<circle cx="396.5" cy="469.3" r="0.80" fill="#7c64c2" opacity="0.34"/>
<circle cx="379.6" cy="430.9" r="1.49" fill="#5c3ab6" opacity="0.77"/>
<circle cx="347.7" cy="486.5" r="1.01" fill="#7c64c2" opacity="0.41"/>
<circle cx="367.2" cy="496.5" r="0.44" fill="#7c64c2" opacity="0.53"/>
<circle cx="371.4" cy="492.2" r="0.47" fill="#7c64c2" opacity="0.64"/>
<circle cx="380.3" cy="454.6" r="0.72" fill="#7c64c2" opacity="0.37"/>
<circle cx="392.7" cy="458.4" r="0.88" fill="#5c3ab6" opacity="0.80"/>
<circle cx="335.6" cy="452.6" r="0.63" fill="#7c64c2" opacity="0.69"/>
<circle cx="359.1" cy="442.5" r="0.54" fill="#7c64c2" opacity="0.35"/>
<circle cx="371.4" cy="484.3" r="0.54" fill="#7c64c2" opacity="0.33"/>
<circle cx="394.4" cy="484.0" r="1.06" fill="#7c64c2" opacity="0.45"/>
<circle cx="378.9" cy="475.6" r="0.73" fill="#7c64c2" opacity="0.68"/>
<circle cx="393.4" cy="456.3" r="1.49" fill="#5c3ab6" opacity="0.97"/>
<circle cx="391.9" cy="456.8" r="1.58" fill="#5c3ab6" opacity="0.97"/>
<circle cx="351.3" cy="492.4" r="0.68" fill="#7c64c2" opacity="0.63"/>
<circle cx="395.3" cy="463.4" r="1.05" fill="#7c64c2" opacity="0.36"/>
<circle cx="364.5" cy="447.9" r="0.94" fill="#7c64c2" opacity="0.33"/>
<circle cx="395.8" cy="448.1" r="0.98" fill="#7c64c2" opacity="0.57"/>
<circle cx="360.1" cy="470.0" r="0.93" fill="#7c64c2" opacity="0.44"/>
<circle cx="360.7" cy="498.0" r="0.48" fill="#7c64c2" opacity="0.40"/>
<circle cx="360.8" cy="432.0" r="0.86" fill="#7c64c2" opacity="0.57"/>
<circle cx="362.0" cy="450.9" r="0.43" fill="#7c64c2" opacity="0.35"/>
<circle cx="341.7" cy="442.9" r="0.99" fill="#7c64c2" opacity="0.68"/>
<circle cx="352.3" cy="433.1" r="0.98" fill="#7c64c2" opacity="0.37"/>
<circle cx="363.6" cy="487.1" r="0.70" fill="#7c64c2" opacity="0.70"/>
<circle cx="347.5" cy="436.4" r="0.38" fill="#7c64c2" opacity="0.43"/>
<circle cx="380.8" cy="462.3" r="0.48" fill="#7c64c2" opacity="0.60"/>
<circle cx="336.7" cy="472.3" r="1.01" fill="#7c64c2" opacity="0.44"/>
<circle cx="346.1" cy="435.8" r="0.68" fill="#7c64c2" opacity="0.75"/>
<circle cx="365.8" cy="461.8" r="0.45" fill="#7c64c2" opacity="0.32"/>
<circle cx="392.0" cy="441.7" r="1.05" fill="#7c64c2" opacity="0.40"/>
<circle cx="377.5" cy="466.1" r="0.54" fill="#7c64c2" opacity="0.60"/>
<circle cx="393.8" cy="458.8" r="0.44" fill="#7c64c2" opacity="0.63"/>
<circle cx="377.8" cy="495.9" r="0.62" fill="#7c64c2" opacity="0.48"/>
<circle cx="373.2" cy="494.1" r="0.46" fill="#7c64c2" opacity="0.43"/>
<circle cx="355.8" cy="476.0" r="1.29" fill="#5c3ab6" opacity="0.93"/>
<circle cx="376.4" cy="445.2" r="0.42" fill="#7c64c2" opacity="0.44"/>
<circle cx="383.6" cy="463.7" r="1.04" fill="#7c64c2" opacity="0.65"/>
<circle cx="374.8" cy="491.1" r="0.56" fill="#7c64c2" opacity="0.33"/>
<circle cx="392.0" cy="436.9" r="0.43" fill="#7c64c2" opacity="0.66"/>
<circle cx="372.1" cy="471.1" r="0.50" fill="#7c64c2" opacity="0.41"/>
<circle cx="352.3" cy="437.9" r="0.47" fill="#7c64c2" opacity="0.70"/>
<circle cx="358.3" cy="475.7" r="0.52" fill="#7c64c2" opacity="0.49"/>
<circle cx="367.3" cy="488.4" r="0.44" fill="#7c64c2" opacity="0.75"/>
<circle cx="335.9" cy="462.9" r="0.63" fill="#7c64c2" opacity="0.55"/>
<circle cx="384.6" cy="469.7" r="0.79" fill="#5c3ab6" opacity="0.82"/>
<circle cx="394.8" cy="474.7" r="0.76" fill="#7c64c2" opacity="0.47"/>
<circle cx="374.9" cy="436.1" r="0.89" fill="#7c64c2" opacity="0.42"/>
<circle cx="387.2" cy="472.1" r="0.91" fill="#7c64c2" opacity="0.68"/>
<circle cx="394.6" cy="474.3" r="0.68" fill="#7c64c2" opacity="0.41"/>
<circle cx="401.7" cy="462.4" r="0.97" fill="#7c64c2" opacity="0.72"/>
<circle cx="393.8" cy="442.9" r="0.37" fill="#7c64c2" opacity="0.44"/>
<circle cx="353.1" cy="490.6" r="1.60" fill="#5c3ab6" opacity="0.86"/>
<circle cx="368.4" cy="481.4" r="0.65" fill="#7c64c2" opacity="0.65"/>
<circle cx="383.8" cy="480.9" r="0.90" fill="#5c3ab6" opacity="0.88"/>
<circle cx="383.1" cy="480.8" r="0.87" fill="#5c3ab6" opacity="0.88"/>
<circle cx="383.5" cy="480.6" r="1.22" fill="#5c3ab6" opacity="0.88"/>
<circle cx="343.9" cy="458.1" r="0.40" fill="#7c64c2" opacity="0.46"/>
<circle cx="376.1" cy="489.2" r="1.09" fill="#5c3ab6" opacity="0.82"/>
<circle cx="365.4" cy="433.0" r="0.50" fill="#7c64c2" opacity="0.57"/>
<circle cx="359.5" cy="479.5" r="1.01" fill="#7c64c2" opacity="0.68"/>
<circle cx="392.8" cy="447.8" r="0.82" fill="#7c64c2" opacity="0.70"/>
<circle cx="374.1" cy="478.4" r="1.03" fill="#5c3ab6" opacity="1.00"/>
<circle cx="374.7" cy="478.6" r="1.25" fill="#5c3ab6" opacity="1.00"/>
<circle cx="350.0" cy="452.0" r="0.69" fill="#5c3ab6" opacity="0.78"/>
<circle cx="349.8" cy="451.3" r="0.76" fill="#5c3ab6" opacity="0.78"/>
<circle cx="391.8" cy="447.3" r="1.04" fill="#7c64c2" opacity="0.43"/>
<circle cx="365.8" cy="475.2" r="0.88" fill="#7c64c2" opacity="0.33"/>
<circle cx="355.0" cy="463.3" r="0.39" fill="#7c64c2" opacity="0.60"/>
<circle cx="336.1" cy="468.9" r="0.46" fill="#7c64c2" opacity="0.56"/>
<circle cx="355.4" cy="495.9" r="0.99" fill="#7c64c2" opacity="0.57"/>
<circle cx="363.2" cy="446.4" r="0.51" fill="#7c64c2" opacity="0.60"/>
<circle cx="336.4" cy="474.8" r="0.90" fill="#7c64c2" opacity="0.35"/>
<circle cx="400.9" cy="460.5" r="0.86" fill="#7c64c2" opacity="0.61"/>
<circle cx="358.3" cy="480.5" r="0.73" fill="#5c3ab6" opacity="0.84"/>
<circle cx="360.1" cy="471.3" r="0.40" fill="#7c64c2" opacity="0.39"/>
<circle cx="386.7" cy="441.8" r="0.75" fill="#7c64c2" opacity="0.57"/>
</g></g>
<clipPath id="clip13"><circle cx="453.5" cy="463.7" r="35.4"/></clipPath>
<circle cx="453.5" cy="463.7" r="35.4" fill="#c8cccb" filter="url(#pgrain13)"/>
<g clip-path="url(#clip13)"><g filter="url(#pblur)">
<circle cx="451.8" cy="493.5" r="0.99" fill="#8a78c8" opacity="0.38"/>
<circle cx="455.2" cy="477.4" r="0.90" fill="#8a78c8" opacity="0.36"/>
<circle cx="437.1" cy="460.4" r="0.67" fill="#8a78c8" opacity="0.68"/>
<circle cx="450.1" cy="461.0" r="0.46" fill="#8a78c8" opacity="0.69"/>
<circle cx="465.4" cy="433.5" r="0.91" fill="#8a78c8" opacity="0.73"/>
<circle cx="458.5" cy="446.1" r="0.72" fill="#8a78c8" opacity="0.64"/>
<circle cx="431.7" cy="454.4" r="0.67" fill="#8a78c8" opacity="0.44"/>
<circle cx="477.7" cy="485.7" r="1.09" fill="#8a78c8" opacity="0.61"/>
<circle cx="424.1" cy="453.3" r="0.86" fill="#8a78c8" opacity="0.50"/>
<circle cx="460.7" cy="478.3" r="0.54" fill="#8a78c8" opacity="0.51"/>
<circle cx="435.6" cy="449.7" r="0.72" fill="#8a78c8" opacity="0.41"/>
<circle cx="454.9" cy="479.6" r="0.40" fill="#8a78c8" opacity="0.59"/>
<circle cx="475.1" cy="457.2" r="1.05" fill="#8a78c8" opacity="0.32"/>
<circle cx="473.9" cy="488.9" r="0.83" fill="#8a78c8" opacity="0.37"/>
<circle cx="424.7" cy="481.1" r="0.95" fill="#8a78c8" opacity="0.39"/>
<circle cx="466.9" cy="446.1" r="0.45" fill="#8a78c8" opacity="0.74"/>
<circle cx="429.1" cy="445.1" r="0.81" fill="#8a78c8" opacity="0.56"/>
<circle cx="435.3" cy="452.0" r="0.61" fill="#8a78c8" opacity="0.43"/>
<circle cx="468.8" cy="489.4" r="0.52" fill="#8a78c8" opacity="0.33"/>
<circle cx="436.8" cy="442.6" r="0.38" fill="#8a78c8" opacity="0.50"/>
<circle cx="446.7" cy="473.2" r="1.39" fill="#6e48c0" opacity="0.78"/>
<circle cx="432.0" cy="467.8" r="0.35" fill="#8a78c8" opacity="0.45"/>
<circle cx="417.9" cy="464.5" r="0.71" fill="#8a78c8" opacity="0.60"/>
<circle cx="451.6" cy="469.9" r="1.03" fill="#8a78c8" opacity="0.63"/>
<circle cx="451.9" cy="493.5" r="0.54" fill="#8a78c8" opacity="0.56"/>
<circle cx="442.5" cy="477.8" r="0.50" fill="#8a78c8" opacity="0.46"/>
<circle cx="476.3" cy="468.3" r="1.49" fill="#6e48c0" opacity="0.90"/>
<circle cx="433.9" cy="456.7" r="0.68" fill="#8a78c8" opacity="0.36"/>
<circle cx="461.4" cy="454.6" r="0.51" fill="#8a78c8" opacity="0.44"/>
<circle cx="448.5" cy="468.0" r="0.62" fill="#8a78c8" opacity="0.50"/>
<circle cx="478.7" cy="439.4" r="1.31" fill="#6e48c0" opacity="0.78"/>
<circle cx="478.3" cy="437.4" r="1.12" fill="#6e48c0" opacity="0.78"/>
<circle cx="480.0" cy="437.7" r="1.26" fill="#6e48c0" opacity="0.78"/>
<circle cx="438.8" cy="479.0" r="0.51" fill="#8a78c8" opacity="0.62"/>
<circle cx="436.0" cy="433.5" r="1.04" fill="#8a78c8" opacity="0.50"/>
<circle cx="428.0" cy="451.1" r="1.02" fill="#8a78c8" opacity="0.35"/>
<circle cx="470.7" cy="483.7" r="0.75" fill="#8a78c8" opacity="0.43"/>
<circle cx="472.1" cy="459.3" r="0.92" fill="#6e48c0" opacity="0.76"/>
<circle cx="473.3" cy="459.4" r="0.74" fill="#6e48c0" opacity="0.76"/>
<circle cx="472.8" cy="459.5" r="0.86" fill="#6e48c0" opacity="0.76"/>
<circle cx="445.6" cy="494.2" r="0.58" fill="#8a78c8" opacity="0.75"/>
<circle cx="435.1" cy="467.1" r="0.69" fill="#8a78c8" opacity="0.30"/>
<circle cx="471.6" cy="467.1" r="1.05" fill="#8a78c8" opacity="0.41"/>
<circle cx="473.1" cy="436.7" r="1.09" fill="#8a78c8" opacity="0.64"/>
<circle cx="435.1" cy="465.5" r="1.03" fill="#8a78c8" opacity="0.54"/>
<circle cx="461.1" cy="484.5" r="0.49" fill="#8a78c8" opacity="0.56"/>
<circle cx="485.5" cy="470.7" r="0.43" fill="#8a78c8" opacity="0.56"/>
<circle cx="441.5" cy="495.5" r="0.74" fill="#8a78c8" opacity="0.68"/>
<circle cx="460.4" cy="494.1" r="0.67" fill="#8a78c8" opacity="0.73"/>
<circle cx="486.7" cy="468.3" r="0.98" fill="#8a78c8" opacity="0.37"/>
<circle cx="477.6" cy="472.1" r="0.54" fill="#8a78c8" opacity="0.52"/>
<circle cx="439.6" cy="452.5" r="0.36" fill="#8a78c8" opacity="0.50"/>
<circle cx="454.8" cy="442.7" r="0.39" fill="#8a78c8" opacity="0.62"/>
<circle cx="422.5" cy="478.9" r="0.43" fill="#8a78c8" opacity="0.71"/>
<circle cx="483.2" cy="450.2" r="0.86" fill="#8a78c8" opacity="0.62"/>
<circle cx="439.7" cy="439.6" r="0.45" fill="#8a78c8" opacity="0.63"/>
<circle cx="446.5" cy="458.8" r="0.81" fill="#8a78c8" opacity="0.53"/>
<circle cx="458.8" cy="430.3" r="0.96" fill="#8a78c8" opacity="0.52"/>
<circle cx="432.6" cy="453.6" r="0.68" fill="#8a78c8" opacity="0.73"/>
<circle cx="437.9" cy="488.9" r="0.86" fill="#8a78c8" opacity="0.47"/>
<circle cx="475.6" cy="475.4" r="0.96" fill="#8a78c8" opacity="0.65"/>
<circle cx="477.6" cy="461.6" r="0.77" fill="#8a78c8" opacity="0.64"/>
<circle cx="468.2" cy="471.8" r="0.59" fill="#8a78c8" opacity="0.43"/>
<circle cx="469.6" cy="460.4" r="0.57" fill="#8a78c8" opacity="0.39"/>
<circle cx="464.1" cy="462.0" r="0.45" fill="#8a78c8" opacity="0.33"/>
<circle cx="440.9" cy="474.6" r="0.36" fill="#8a78c8" opacity="0.61"/>
<circle cx="470.0" cy="469.0" r="1.01" fill="#8a78c8" opacity="0.60"/>
<circle cx="445.8" cy="434.5" r="0.99" fill="#8a78c8" opacity="0.37"/>
<circle cx="480.3" cy="473.2" r="0.74" fill="#8a78c8" opacity="0.65"/>
<circle cx="467.4" cy="490.7" r="0.67" fill="#8a78c8" opacity="0.41"/>
<circle cx="448.1" cy="490.6" r="1.03" fill="#8a78c8" opacity="0.43"/>
<circle cx="451.1" cy="452.7" r="0.47" fill="#8a78c8" opacity="0.69"/>
<circle cx="471.3" cy="459.8" r="0.51" fill="#8a78c8" opacity="0.44"/>
<circle cx="472.6" cy="478.2" r="0.88" fill="#8a78c8" opacity="0.56"/>
<circle cx="426.8" cy="478.3" r="0.60" fill="#8a78c8" opacity="0.46"/>
<circle cx="487.4" cy="464.0" r="0.68" fill="#6e48c0" opacity="0.95"/>
<circle cx="486.8" cy="464.2" r="0.72" fill="#6e48c0" opacity="0.95"/>
<circle cx="487.0" cy="464.7" r="0.63" fill="#6e48c0" opacity="0.95"/>
<circle cx="433.2" cy="487.5" r="0.43" fill="#8a78c8" opacity="0.63"/>
<circle cx="427.1" cy="452.6" r="0.95" fill="#8a78c8" opacity="0.57"/>
<circle cx="456.7" cy="438.6" r="0.96" fill="#8a78c8" opacity="0.58"/>
<circle cx="449.8" cy="467.3" r="0.61" fill="#8a78c8" opacity="0.49"/>
<circle cx="447.2" cy="489.9" r="0.98" fill="#8a78c8" opacity="0.57"/>
<circle cx="423.7" cy="452.2" r="0.75" fill="#8a78c8" opacity="0.64"/>
<circle cx="448.1" cy="433.0" r="0.77" fill="#8a78c8" opacity="0.55"/>
<circle cx="460.2" cy="480.1" r="0.72" fill="#8a78c8" opacity="0.70"/>
<circle cx="474.1" cy="469.3" r="0.69" fill="#8a78c8" opacity="0.68"/>
<circle cx="470.5" cy="490.5" r="0.78" fill="#8a78c8" opacity="0.33"/>
<circle cx="427.0" cy="482.2" r="0.77" fill="#8a78c8" opacity="0.49"/>
<circle cx="482.8" cy="471.0" r="0.89" fill="#8a78c8" opacity="0.58"/>
<circle cx="425.9" cy="483.2" r="1.07" fill="#8a78c8" opacity="0.34"/>
<circle cx="480.6" cy="458.4" r="1.05" fill="#8a78c8" opacity="0.53"/>
<circle cx="444.7" cy="463.2" r="0.83" fill="#8a78c8" opacity="0.41"/>
<circle cx="471.2" cy="479.0" r="1.00" fill="#8a78c8" opacity="0.51"/>
<circle cx="485.5" cy="471.0" r="0.90" fill="#8a78c8" opacity="0.52"/>
<circle cx="467.0" cy="460.6" r="0.89" fill="#8a78c8" opacity="0.31"/>
<circle cx="435.5" cy="455.9" r="1.07" fill="#8a78c8" opacity="0.60"/>
<circle cx="425.5" cy="464.8" r="0.70" fill="#8a78c8" opacity="0.35"/>
<circle cx="451.8" cy="454.6" r="0.48" fill="#8a78c8" opacity="0.55"/>
<circle cx="459.1" cy="465.8" r="0.89" fill="#8a78c8" opacity="0.70"/>
<circle cx="437.6" cy="431.4" r="0.82" fill="#8a78c8" opacity="0.59"/>
<circle cx="459.6" cy="475.7" r="0.74" fill="#8a78c8" opacity="0.65"/>
<circle cx="447.2" cy="436.6" r="1.33" fill="#6e48c0" opacity="0.88"/>
<circle cx="423.7" cy="473.1" r="0.68" fill="#8a78c8" opacity="0.41"/>
<circle cx="438.0" cy="435.0" r="0.89" fill="#8a78c8" opacity="0.51"/>
<circle cx="457.3" cy="482.3" r="0.96" fill="#8a78c8" opacity="0.57"/>
<circle cx="485.4" cy="463.8" r="0.67" fill="#8a78c8" opacity="0.41"/>
<circle cx="425.5" cy="474.6" r="0.45" fill="#8a78c8" opacity="0.70"/>
<circle cx="444.5" cy="467.1" r="0.43" fill="#8a78c8" opacity="0.46"/>
<circle cx="431.9" cy="443.7" r="0.48" fill="#8a78c8" opacity="0.56"/>
<circle cx="471.4" cy="446.7" r="0.70" fill="#8a78c8" opacity="0.62"/>
<circle cx="473.8" cy="458.2" r="0.61" fill="#8a78c8" opacity="0.70"/>
<circle cx="456.4" cy="430.4" r="0.80" fill="#8a78c8" opacity="0.73"/>
<circle cx="469.5" cy="486.2" r="1.13" fill="#6e48c0" opacity="0.92"/>
<circle cx="463.1" cy="489.4" r="0.39" fill="#8a78c8" opacity="0.44"/>
<circle cx="478.0" cy="459.8" r="0.67" fill="#8a78c8" opacity="0.33"/>
<circle cx="440.9" cy="453.0" r="0.81" fill="#8a78c8" opacity="0.60"/>
<circle cx="488.9" cy="466.4" r="0.86" fill="#6e48c0" opacity="0.83"/>
<circle cx="489.2" cy="465.5" r="1.10" fill="#6e48c0" opacity="0.83"/>
<circle cx="487.8" cy="465.5" r="1.00" fill="#6e48c0" opacity="0.83"/>
<circle cx="457.2" cy="434.3" r="1.00" fill="#8a78c8" opacity="0.53"/>
<circle cx="456.5" cy="474.5" r="0.39" fill="#8a78c8" opacity="0.40"/>
<circle cx="432.4" cy="490.5" r="0.98" fill="#8a78c8" opacity="0.58"/>
<circle cx="484.4" cy="466.0" r="1.06" fill="#8a78c8" opacity="0.74"/>
<circle cx="481.8" cy="476.1" r="0.43" fill="#8a78c8" opacity="0.69"/>
<circle cx="435.2" cy="470.6" r="0.40" fill="#8a78c8" opacity="0.49"/>
<circle cx="433.7" cy="436.6" r="1.02" fill="#8a78c8" opacity="0.35"/>
<circle cx="459.1" cy="483.8" r="0.42" fill="#8a78c8" opacity="0.59"/>
<circle cx="440.8" cy="473.0" r="0.44" fill="#8a78c8" opacity="0.61"/>
<circle cx="477.6" cy="458.2" r="0.65" fill="#8a78c8" opacity="0.46"/>
<circle cx="440.4" cy="471.6" r="0.87" fill="#8a78c8" opacity="0.52"/>
<circle cx="466.0" cy="469.4" r="0.61" fill="#8a78c8" opacity="0.67"/>
<circle cx="432.3" cy="444.5" r="0.78" fill="#8a78c8" opacity="0.49"/>
<circle cx="418.6" cy="460.1" r="0.51" fill="#8a78c8" opacity="0.71"/>
<circle cx="482.7" cy="449.3" r="0.43" fill="#8a78c8" opacity="0.62"/>
<circle cx="477.1" cy="487.1" r="0.72" fill="#8a78c8" opacity="0.53"/>
<circle cx="461.0" cy="489.8" r="0.69" fill="#8a78c8" opacity="0.50"/>
<circle cx="443.0" cy="475.4" r="0.98" fill="#8a78c8" opacity="0.73"/>
<circle cx="439.8" cy="477.4" r="1.00" fill="#8a78c8" opacity="0.42"/>
<circle cx="462.5" cy="481.8" r="0.78" fill="#6e48c0" opacity="0.81"/>
<circle cx="462.0" cy="481.5" r="0.69" fill="#6e48c0" opacity="0.81"/>
<circle cx="431.5" cy="452.7" r="0.66" fill="#8a78c8" opacity="0.31"/>
<circle cx="452.6" cy="478.9" r="0.40" fill="#8a78c8" opacity="0.67"/>
<circle cx="476.6" cy="466.1" r="0.50" fill="#8a78c8" opacity="0.64"/>
<circle cx="487.9" cy="455.1" r="0.76" fill="#8a78c8" opacity="0.49"/>
<circle cx="474.1" cy="475.0" r="0.65" fill="#8a78c8" opacity="0.65"/>
<circle cx="435.0" cy="470.2" r="0.78" fill="#8a78c8" opacity="0.41"/>
<circle cx="474.1" cy="449.6" r="0.70" fill="#8a78c8" opacity="0.69"/>
<circle cx="450.7" cy="439.8" r="0.93" fill="#8a78c8" opacity="0.68"/>
<circle cx="426.5" cy="443.5" r="0.66" fill="#8a78c8" opacity="0.44"/>
<circle cx="451.8" cy="477.7" r="0.76" fill="#8a78c8" opacity="0.34"/>
<circle cx="459.5" cy="486.4" r="0.99" fill="#8a78c8" opacity="0.64"/>
<circle cx="447.2" cy="486.5" r="0.64" fill="#8a78c8" opacity="0.59"/>
<circle cx="477.3" cy="471.5" r="1.03" fill="#8a78c8" opacity="0.73"/>
<circle cx="453.8" cy="442.9" r="1.04" fill="#8a78c8" opacity="0.33"/>
<circle cx="429.6" cy="475.9" r="0.53" fill="#8a78c8" opacity="0.65"/>
<circle cx="459.4" cy="490.5" r="1.45" fill="#6e48c0" opacity="0.99"/>
<circle cx="433.9" cy="463.0" r="0.90" fill="#8a78c8" opacity="0.56"/>
<circle cx="425.1" cy="474.2" r="1.34" fill="#6e48c0" opacity="0.97"/>
<circle cx="425.2" cy="472.9" r="0.90" fill="#6e48c0" opacity="0.97"/>
<circle cx="425.5" cy="473.3" r="1.14" fill="#6e48c0" opacity="0.97"/>
<circle cx="487.4" cy="472.9" r="0.83" fill="#8a78c8" opacity="0.58"/>
<circle cx="443.3" cy="476.7" r="0.60" fill="#8a78c8" opacity="0.33"/>
<circle cx="456.7" cy="470.1" r="0.50" fill="#8a78c8" opacity="0.71"/>
<circle cx="427.6" cy="439.7" r="0.54" fill="#8a78c8" opacity="0.34"/>
<circle cx="431.7" cy="442.9" r="1.03" fill="#8a78c8" opacity="0.34"/>
<circle cx="435.0" cy="439.7" r="0.54" fill="#8a78c8" opacity="0.72"/>
<circle cx="480.9" cy="468.1" r="0.74" fill="#8a78c8" opacity="0.38"/>
<circle cx="437.5" cy="477.8" r="0.65" fill="#8a78c8" opacity="0.40"/>
<circle cx="465.6" cy="485.2" r="0.99" fill="#8a78c8" opacity="0.37"/>
<circle cx="444.3" cy="453.4" r="1.10" fill="#8a78c8" opacity="0.45"/>
<circle cx="475.1" cy="479.9" r="0.73" fill="#8a78c8" opacity="0.73"/>
<circle cx="431.8" cy="462.0" r="0.79" fill="#8a78c8" opacity="0.63"/>
<circle cx="430.9" cy="463.2" r="0.98" fill="#8a78c8" opacity="0.75"/>
<circle cx="427.3" cy="448.2" r="0.47" fill="#8a78c8" opacity="0.33"/>
<circle cx="427.9" cy="440.5" r="0.85" fill="#8a78c8" opacity="0.69"/>
<circle cx="433.4" cy="476.1" r="0.97" fill="#8a78c8" opacity="0.61"/>
<circle cx="422.0" cy="458.9" r="0.38" fill="#8a78c8" opacity="0.40"/>
<circle cx="423.6" cy="469.9" r="0.68" fill="#8a78c8" opacity="0.60"/>
<circle cx="445.4" cy="492.4" r="1.24" fill="#6e48c0" opacity="0.91"/>
<circle cx="445.7" cy="492.0" r="1.04" fill="#6e48c0" opacity="0.91"/>
<circle cx="444.7" cy="492.9" r="1.31" fill="#6e48c0" opacity="0.91"/>
<circle cx="435.3" cy="438.2" r="0.48" fill="#8a78c8" opacity="0.54"/>
<circle cx="425.0" cy="469.6" r="0.64" fill="#8a78c8" opacity="0.47"/>
<circle cx="444.0" cy="431.1" r="0.80" fill="#8a78c8" opacity="0.70"/>
<circle cx="460.2" cy="460.0" r="0.42" fill="#8a78c8" opacity="0.55"/>
<circle cx="417.8" cy="463.7" r="0.38" fill="#8a78c8" opacity="0.73"/>
<circle cx="429.9" cy="470.2" r="0.56" fill="#8a78c8" opacity="0.31"/>
<circle cx="437.8" cy="457.9" r="1.10" fill="#8a78c8" opacity="0.74"/>
<circle cx="446.0" cy="483.2" r="0.81" fill="#8a78c8" opacity="0.38"/>
<circle cx="477.7" cy="488.3" r="1.02" fill="#8a78c8" opacity="0.40"/>
<circle cx="465.7" cy="488.3" r="0.48" fill="#8a78c8" opacity="0.53"/>
<circle cx="429.9" cy="454.0" r="0.69" fill="#8a78c8" opacity="0.35"/>
<circle cx="460.6" cy="468.8" r="0.54" fill="#8a78c8" opacity="0.60"/>
<circle cx="480.0" cy="484.8" r="1.21" fill="#6e48c0" opacity="0.88"/>
<circle cx="478.3" cy="484.9" r="1.84" fill="#6e48c0" opacity="0.88"/>
<circle cx="478.0" cy="486.6" r="1.90" fill="#6e48c0" opacity="0.88"/>
<circle cx="442.8" cy="429.3" r="0.64" fill="#8a78c8" opacity="0.74"/>
<circle cx="459.1" cy="490.0" r="0.76" fill="#8a78c8" opacity="0.43"/>
<circle cx="488.3" cy="454.8" r="0.72" fill="#8a78c8" opacity="0.73"/>
<circle cx="461.0" cy="461.1" r="0.43" fill="#8a78c8" opacity="0.34"/>
<circle cx="453.1" cy="485.7" r="1.07" fill="#8a78c8" opacity="0.37"/>
<circle cx="438.0" cy="443.3" r="1.10" fill="#8a78c8" opacity="0.71"/>
<circle cx="434.4" cy="491.5" r="0.86" fill="#8a78c8" opacity="0.72"/>
<circle cx="439.7" cy="446.0" r="1.06" fill="#6e48c0" opacity="0.89"/>
</g></g>
<text x="507.80" y="367.00" font-size="11" text-anchor="start" font-weight="bold" fill="#000" >g</text>
<line x1="575.50" y1="388.70" x2="575.50" y2="519.00" stroke="#000" stroke-width="1.3"/>
<line x1="570.50" y1="389.50" x2="575.50" y2="389.50" stroke="#000" stroke-width="1.3"/>
<text x="568.00" y="392.90" font-size="10" text-anchor="end" fill="#111" >1.2</text>
<line x1="570.50" y1="432.50" x2="575.50" y2="432.50" stroke="#000" stroke-width="1.3"/>
<text x="568.00" y="436.13" font-size="10" text-anchor="end" fill="#111" >0.8</text>
<line x1="570.50" y1="475.50" x2="575.50" y2="475.50" stroke="#000" stroke-width="1.3"/>
<text x="568.00" y="479.37" font-size="10" text-anchor="end" fill="#111" >0.4</text>
<line x1="570.50" y1="519.50" x2="575.50" y2="519.50" stroke="#000" stroke-width="1.3"/>
<text x="568.00" y="522.60" font-size="10" text-anchor="end" fill="#111" >0.0</text>
<line x1="574.90" y1="519.50" x2="683.30" y2="519.50" stroke="#000" stroke-width="1.3"/>
<line x1="597.50" y1="519.50" x2="597.50" y2="525.00" stroke="#000" stroke-width="1.3"/>
<line x1="628.50" y1="519.50" x2="628.50" y2="525.00" stroke="#000" stroke-width="1.3"/>
<line x1="660.50" y1="519.50" x2="660.50" y2="525.00" stroke="#000" stroke-width="1.3"/>
<text transform="translate(549.00,453.50) rotate(-90)" font-size="10" text-anchor="middle" fill="#000">Relative cell count of clonogenicity</text>
<path d="M596.90 397.60V425.00M591.90 397.60H601.90M591.90 425.00H601.90" fill="none" stroke="#7474ff" stroke-width="1.1"/>
<path d="M587.00 519.00V411.80H606.80V519.00" fill="none" stroke="#0000ff" stroke-width="2" stroke-linejoin="miter"/>
<circle cx="597.00" cy="397.60" r="2.0" fill="#0000ff"/>
<circle cx="597.00" cy="410.20" r="2.0" fill="#0000ff"/>
<circle cx="597.00" cy="425.00" r="2.0" fill="#0000ff"/>
<path d="M629.00 402.50V427.60M624.00 402.50H634.00M624.00 427.60H634.00" fill="none" stroke="#c8c8c8" stroke-width="1.1"/>
<path d="M619.10 519.00V416.40H638.90V519.00" fill="none" stroke="#a6a6a6" stroke-width="2" stroke-linejoin="miter"/>
<circle cx="628.80" cy="402.50" r="2.0" fill="#a6a6a6"/>
<circle cx="628.80" cy="416.10" r="2.0" fill="#a6a6a6"/>
<circle cx="628.80" cy="427.60" r="2.0" fill="#a6a6a6"/>
<path d="M660.90 474.50V486.90M655.90 474.50H665.90M655.90 486.90H665.90" fill="none" stroke="#ffb568" stroke-width="1.1"/>
<path d="M651.00 519.00V481.10H670.80V519.00" fill="none" stroke="#ff8000" stroke-width="2" stroke-linejoin="miter"/>
<circle cx="660.80" cy="474.50" r="2.0" fill="#ff8000"/>
<circle cx="660.80" cy="479.60" r="2.0" fill="#ff8000"/>
<circle cx="660.80" cy="486.90" r="2.0" fill="#ff8000"/>
<text x="614.00" y="381.60" font-size="7" text-anchor="start" fill="#111"><tspan font-style="italic">p</tspan>=0.6921</text>
<text x="628.50" y="394.50" font-size="9.5" text-anchor="middle" fill="#111" >ns</text>
<text x="648.10" y="459.80" font-size="7" text-anchor="start" fill="#111"><tspan font-style="italic">p</tspan>=0.0013</text>
<text x="660.50" y="469.80" font-size="8.5" text-anchor="middle" fill="#111" >**</text>
<text transform="translate(598.0,535.0) rotate(-45)" font-size="9.9" text-anchor="end" fill="#111">DMSO</text>
<text transform="translate(631.5,535.0) rotate(-45)" font-size="9.9" text-anchor="end" fill="#111"><tspan font-weight="bold">16o</tspan> (25μM )</text>
<text transform="translate(664.0,535.0) rotate(-45)" font-size="9.9" text-anchor="end" fill="#111"><tspan font-weight="bold">DC2-C1</tspan> (25μM )</text>
<text x="4.50" y="600.30" font-size="11" text-anchor="start" font-weight="bold" fill="#000" >h</text>
<text x="117.30" y="624.70" font-size="10.5" text-anchor="middle" font-weight="bold" fill="#111" >DC2-C1</text>
<text x="119.00" y="636.80" font-size="10.6" text-anchor="middle" fill="#111" >(25μM)</text>
<text x="203.60" y="624.80" font-size="10.5" text-anchor="middle" font-weight="bold" fill="#111" >16o</text>
<text x="203.40" y="637.60" font-size="10.6" text-anchor="middle" fill="#111" >(25μM)</text>
<text x="283.00" y="640.90" font-size="10" text-anchor="middle" fill="#111" >DMSO</text>
<text x="28.80" y="682.30" font-size="10" text-anchor="middle" fill="#111" >Migration</text>
<text x="31.60" y="753.10" font-size="10.4" text-anchor="middle" fill="#111" >Invasion</text>
<defs><filter id="mA" x="0" y="0" width="100%" height="100%" color-interpolation-filters="sRGB"><feTurbulence type="fractalNoise" baseFrequency="0.26" numOctaves="4" seed="2" result="n"/><feColorMatrix in="n" type="matrix" values="0 0 0 0 0  0 0 0 0 0  0 0 0 0 0  1 0 0 0 0" result="a"/><feComponentTransfer in="a" result="m"><feFuncA type="linear" slope="6" intercept="-3.480"/></feComponentTransfer><feFlood flood-color="#a58cbc" result="c"/><feComposite in="c" in2="m" operator="in" result="blobs"/><feFlood flood-color="#e0c9b6" result="bg"/><feTurbulence type="fractalNoise" baseFrequency="0.55" numOctaves="2" seed="5" result="n2"/><feColorMatrix in="n2" type="matrix" values="0 0 0 0 0  0 0 0 0 0  0 0 0 0 0  0 1 0 0 0" result="a2"/><feComponentTransfer in="a2" result="m2"><feFuncA type="linear" slope="6" intercept="-3.780"/></feComponentTransfer><feFlood flood-color="#6a4c88" result="c2"/><feComposite in="c2" in2="m2" operator="in" result="blobs2"/><feMerge result="mm"><feMergeNode in="bg"/><feMergeNode in="blobs"/><feMergeNode in="blobs2"/></feMerge><feGaussianBlur in="mm" stdDeviation="0.4"/></filter></defs>
<defs><filter id="mB" x="0" y="0" width="100%" height="100%" color-interpolation-filters="sRGB"><feTurbulence type="fractalNoise" baseFrequency="0.22" numOctaves="4" seed="3" result="n"/><feColorMatrix in="n" type="matrix" values="0 0 0 0 0  0 0 0 0 0  0 0 0 0 0  1 0 0 0 0" result="a"/><feComponentTransfer in="a" result="m"><feFuncA type="linear" slope="6" intercept="-2.460"/></feComponentTransfer><feFlood flood-color="#9050b0" result="c"/><feComposite in="c" in2="m" operator="in" result="blobs"/><feFlood flood-color="#dcc0be" result="bg"/><feTurbulence type="fractalNoise" baseFrequency="0.35" numOctaves="2" seed="8" result="n2"/><feColorMatrix in="n2" type="matrix" values="0 0 0 0 0  0 0 0 0 0  0 0 0 0 0  0 1 0 0 0" result="a2"/><feComponentTransfer in="a2" result="m2"><feFuncA type="linear" slope="6" intercept="-3.480"/></feComponentTransfer><feFlood flood-color="#6a3494" result="c2"/><feComposite in="c2" in2="m2" operator="in" result="blobs2"/><feMerge result="mm"><feMergeNode in="bg"/><feMergeNode in="blobs"/><feMergeNode in="blobs2"/></feMerge><feGaussianBlur in="mm" stdDeviation="0.4"/></filter></defs>
<defs><filter id="mC" x="0" y="0" width="100%" height="100%" color-interpolation-filters="sRGB"><feTurbulence type="fractalNoise" baseFrequency="0.23" numOctaves="4" seed="4" result="n"/><feColorMatrix in="n" type="matrix" values="0 0 0 0 0  0 0 0 0 0  0 0 0 0 0  1 0 0 0 0" result="a"/><feComponentTransfer in="a" result="m"><feFuncA type="linear" slope="6" intercept="-2.520"/></feComponentTransfer><feFlood flood-color="#9456b4" result="c"/><feComposite in="c" in2="m" operator="in" result="blobs"/><feFlood flood-color="#ddc2c0" result="bg"/><feTurbulence type="fractalNoise" baseFrequency="0.35" numOctaves="2" seed="9" result="n2"/><feColorMatrix in="n2" type="matrix" values="0 0 0 0 0  0 0 0 0 0  0 0 0 0 0  0 1 0 0 0" result="a2"/><feComponentTransfer in="a2" result="m2"><feFuncA type="linear" slope="6" intercept="-3.600"/></feComponentTransfer><feFlood flood-color="#6c3896" result="c2"/><feComposite in="c2" in2="m2" operator="in" result="blobs2"/><feMerge result="mm"><feMergeNode in="bg"/><feMergeNode in="blobs"/><feMergeNode in="blobs2"/></feMerge><feGaussianBlur in="mm" stdDeviation="0.4"/></filter></defs>
<defs><filter id="mD" x="0" y="0" width="100%" height="100%" color-interpolation-filters="sRGB"><feTurbulence type="fractalNoise" baseFrequency="0.28" numOctaves="4" seed="6" result="n"/><feColorMatrix in="n" type="matrix" values="0 0 0 0 0  0 0 0 0 0  0 0 0 0 0  1 0 0 0 0" result="a"/><feComponentTransfer in="a" result="m"><feFuncA type="linear" slope="6" intercept="-3.180"/></feComponentTransfer><feFlood flood-color="#9e98c6" result="c"/><feComposite in="c" in2="m" operator="in" result="blobs"/><feFlood flood-color="#d6d4e0" result="bg"/><feTurbulence type="fractalNoise" baseFrequency="0.55" numOctaves="2" seed="10" result="n2"/><feColorMatrix in="n2" type="matrix" values="0 0 0 0 0  0 0 0 0 0  0 0 0 0 0  0 1 0 0 0" result="a2"/><feComponentTransfer in="a2" result="m2"><feFuncA type="linear" slope="6" intercept="-3.840"/></feComponentTransfer><feFlood flood-color="#5e5688" result="c2"/><feComposite in="c2" in2="m2" operator="in" result="blobs2"/><feMerge result="mm"><feMergeNode in="bg"/><feMergeNode in="blobs"/><feMergeNode in="blobs2"/></feMerge><feGaussianBlur in="mm" stdDeviation="0.4"/></filter></defs>
<defs><filter id="mE" x="0" y="0" width="100%" height="100%" color-interpolation-filters="sRGB"><feTurbulence type="fractalNoise" baseFrequency="0.24" numOctaves="4" seed="7" result="n"/><feColorMatrix in="n" type="matrix" values="0 0 0 0 0  0 0 0 0 0  0 0 0 0 0  1 0 0 0 0" result="a"/><feComponentTransfer in="a" result="m"><feFuncA type="linear" slope="7" intercept="-2.800"/></feComponentTransfer><feFlood flood-color="#5830b4" result="c"/><feComposite in="c" in2="m" operator="in" result="blobs"/><feFlood flood-color="#cbc4e4" result="bg"/><feTurbulence type="fractalNoise" baseFrequency="0.35" numOctaves="2" seed="11" result="n2"/><feColorMatrix in="n2" type="matrix" values="0 0 0 0 0  0 0 0 0 0  0 0 0 0 0  0 1 0 0 0" result="a2"/><feComponentTransfer in="a2" result="m2"><feFuncA type="linear" slope="7" intercept="-4.060"/></feComponentTransfer><feFlood flood-color="#44209a" result="c2"/><feComposite in="c2" in2="m2" operator="in" result="blobs2"/><feMerge result="mm"><feMergeNode in="bg"/><feMergeNode in="blobs"/><feMergeNode in="blobs2"/></feMerge><feGaussianBlur in="mm" stdDeviation="0.4"/></filter></defs>
<defs><filter id="mF" x="0" y="0" width="100%" height="100%" color-interpolation-filters="sRGB"><feTurbulence type="fractalNoise" baseFrequency="0.25" numOctaves="4" seed="8" result="n"/><feColorMatrix in="n" type="matrix" values="0 0 0 0 0  0 0 0 0 0  0 0 0 0 0  1 0 0 0 0" result="a"/><feComponentTransfer in="a" result="m"><feFuncA type="linear" slope="7" intercept="-2.870"/></feComponentTransfer><feFlood flood-color="#5c34b6" result="c"/><feComposite in="c" in2="m" operator="in" result="blobs"/><feFlood flood-color="#cdc6e4" result="bg"/><feTurbulence type="fractalNoise" baseFrequency="0.35" numOctaves="2" seed="12" result="n2"/><feColorMatrix in="n2" type="matrix" values="0 0 0 0 0  0 0 0 0 0  0 0 0 0 0  0 1 0 0 0" result="a2"/><feComponentTransfer in="a2" result="m2"><feFuncA type="linear" slope="7" intercept="-4.060"/></feComponentTransfer><feFlood flood-color="#46249a" result="c2"/><feComposite in="c2" in2="m2" operator="in" result="blobs2"/><feMerge result="mm"><feMergeNode in="bg"/><feMergeNode in="blobs"/><feMergeNode in="blobs2"/></feMerge><feGaussianBlur in="mm" stdDeviation="0.4"/></filter></defs>
<rect x="72.8" y="650.1" width="80.00" height="61.10" filter="url(#mA)"/>
<rect x="144.30" y="708.20" width="6.5" height="2.0" fill="#fff" opacity="0.75"/>
<rect x="157.1" y="650.1" width="80.50" height="61.10" filter="url(#mB)"/>
<rect x="229.10" y="708.20" width="6.5" height="2.0" fill="#fff" opacity="0.75"/>
<rect x="242.8" y="650.1" width="80.30" height="61.10" filter="url(#mC)"/>
<rect x="314.60" y="708.20" width="6.5" height="2.0" fill="#fff" opacity="0.75"/>
<rect x="73.0" y="717.0" width="79.80" height="61.80" filter="url(#mD)"/>
<rect x="144.30" y="775.80" width="6.5" height="2.0" fill="#fff" opacity="0.75"/>
<rect x="157.5" y="717.0" width="80.30" height="61.80" filter="url(#mE)"/>
<rect x="229.30" y="775.80" width="6.5" height="2.0" fill="#fff" opacity="0.75"/>
<rect x="242.8" y="717.0" width="80.30" height="61.80" filter="url(#mF)"/>
<rect x="314.60" y="775.80" width="6.5" height="2.0" fill="#fff" opacity="0.75"/>
<text x="340.80" y="599.40" font-size="11" text-anchor="start" font-weight="bold" fill="#000" >i</text>
<line x1="417.50" y1="604.30" x2="417.50" y2="758.20" stroke="#000" stroke-width="1.3"/>
<line x1="411.50" y1="604.50" x2="417.50" y2="604.50" stroke="#000" stroke-width="1.3"/>
<text x="410.00" y="608.72" font-size="10.6" text-anchor="end" fill="#111" >1.2</text>
<line x1="411.50" y1="656.50" x2="417.50" y2="656.50" stroke="#000" stroke-width="1.3"/>
<text x="410.00" y="659.82" font-size="10.6" text-anchor="end" fill="#111" >0.8</text>
<line x1="411.50" y1="707.50" x2="417.50" y2="707.50" stroke="#000" stroke-width="1.3"/>
<text x="410.00" y="710.92" font-size="10.6" text-anchor="end" fill="#111" >0.4</text>
<line x1="411.50" y1="758.50" x2="417.50" y2="758.50" stroke="#000" stroke-width="1.3"/>
<text x="410.00" y="762.02" font-size="10.6" text-anchor="end" fill="#111" >0.0</text>
<line x1="416.90" y1="758.50" x2="518.40" y2="758.50" stroke="#000" stroke-width="1.3"/>
<line x1="437.50" y1="758.50" x2="437.50" y2="764.00" stroke="#000" stroke-width="1.3"/>
<line x1="467.50" y1="758.50" x2="467.50" y2="764.00" stroke="#000" stroke-width="1.3"/>
<line x1="497.50" y1="758.50" x2="497.50" y2="764.00" stroke="#000" stroke-width="1.3"/>
<text transform="translate(386.40,678.00) rotate(-90)" font-size="11" text-anchor="middle" fill="#000">Relative cell count of migration</text>
<path d="M437.00 616.70V645.30M432.00 616.70H442.00M432.00 645.30H442.00" fill="none" stroke="#7474ff" stroke-width="1.1"/>
<path d="M427.80 758.20V631.70H446.20V758.20" fill="none" stroke="#0000ff" stroke-width="2" stroke-linejoin="miter"/>
<circle cx="436.70" cy="616.70" r="2.0" fill="#0000ff"/>
<circle cx="436.70" cy="630.80" r="2.0" fill="#0000ff"/>
<circle cx="436.70" cy="645.30" r="2.0" fill="#0000ff"/>
<path d="M467.10 633.50V650.80M462.10 633.50H472.10M462.10 650.80H472.10" fill="none" stroke="#c8c8c8" stroke-width="1.1"/>
<path d="M457.90 758.20V644.20H476.30V758.20" fill="none" stroke="#a6a6a6" stroke-width="2" stroke-linejoin="miter"/>
<circle cx="467.00" cy="633.00" r="2.0" fill="#a6a6a6"/>
<circle cx="459.20" cy="648.70" r="2.0" fill="#a6a6a6"/>
<circle cx="474.70" cy="645.80" r="2.0" fill="#a6a6a6"/>
<path d="M497.10 715.00V731.30M492.10 715.00H502.10M492.10 731.30H502.10" fill="none" stroke="#ffb568" stroke-width="1.1"/>
<path d="M487.90 758.20V723.70H506.30V758.20" fill="none" stroke="#ff8000" stroke-width="2" stroke-linejoin="miter"/>
<circle cx="497.00" cy="715.00" r="2.0" fill="#ff8000"/>
<circle cx="497.00" cy="720.80" r="2.0" fill="#ff8000"/>
<circle cx="497.00" cy="731.30" r="2.0" fill="#ff8000"/>
<text x="454.00" y="611.70" font-size="8.1" text-anchor="start" fill="#111"><tspan font-style="italic">p</tspan>=0.2891</text>
<text x="466.60" y="624.80" font-size="10.8" text-anchor="middle" fill="#111" >ns</text>
<text x="482.50" y="700.00" font-size="8.1" text-anchor="start" fill="#111"><tspan font-style="italic">p</tspan>=0.0006</text>
<text x="497.00" y="712.00" font-size="10" text-anchor="middle" fill="#111" >***</text>
<text transform="translate(439,776) rotate(-45)" font-size="10.6" text-anchor="end" fill="#111">DMSO</text>
<text transform="translate(466,778) rotate(-45)" font-size="10.6" text-anchor="end" fill="#111"><tspan font-weight="bold">16o</tspan>( 25μM )</text>
<text transform="translate(495,779) rotate(-45)" font-size="10.6" text-anchor="end" fill="#111"><tspan font-weight="bold">DC2-C1</tspan>( 25μM )</text>
<line x1="591.50" y1="617.10" x2="591.50" y2="757.20" stroke="#000" stroke-width="1.3"/>
<line x1="585.50" y1="617.50" x2="591.50" y2="617.50" stroke="#000" stroke-width="1.3"/>
<text x="584.00" y="621.52" font-size="10.6" text-anchor="end" fill="#111" >1.2</text>
<line x1="585.50" y1="664.50" x2="591.50" y2="664.50" stroke="#000" stroke-width="1.3"/>
<text x="584.00" y="668.02" font-size="10.6" text-anchor="end" fill="#111" >0.8</text>
<line x1="585.50" y1="710.50" x2="591.50" y2="710.50" stroke="#000" stroke-width="1.3"/>
<text x="584.00" y="714.52" font-size="10.6" text-anchor="end" fill="#111" >0.4</text>
<line x1="585.50" y1="757.50" x2="591.50" y2="757.50" stroke="#000" stroke-width="1.3"/>
<text x="584.00" y="761.02" font-size="10.6" text-anchor="end" fill="#111" >0.0</text>
<line x1="590.90" y1="757.50" x2="684.70" y2="757.50" stroke="#000" stroke-width="1.3"/>
<line x1="609.50" y1="757.50" x2="609.50" y2="763.00" stroke="#000" stroke-width="1.3"/>
<line x1="637.50" y1="757.50" x2="637.50" y2="763.00" stroke="#000" stroke-width="1.3"/>
<line x1="665.50" y1="757.50" x2="665.50" y2="763.00" stroke="#000" stroke-width="1.3"/>
<text transform="translate(563.20,687.00) rotate(-90)" font-size="10.5" text-anchor="middle" fill="#000">Relative cell count of invasion</text>
<path d="M610.20 635.50V645.90M605.20 635.50H615.20M605.20 645.90H615.20" fill="none" stroke="#7474ff" stroke-width="1.1"/>
<path d="M601.80 757.20V641.70H618.60V757.20" fill="none" stroke="#0000ff" stroke-width="2" stroke-linejoin="miter"/>
<circle cx="610.20" cy="635.50" r="2.0" fill="#0000ff"/>
<circle cx="610.20" cy="641.70" r="2.0" fill="#0000ff"/>
<circle cx="610.20" cy="645.90" r="2.0" fill="#0000ff"/>
<path d="M637.80 637.70V656.10M632.80 637.70H642.80M632.80 656.10H642.80" fill="none" stroke="#c8c8c8" stroke-width="1.1"/>
<path d="M629.40 757.20V647.90H646.20V757.20" fill="none" stroke="#a6a6a6" stroke-width="2" stroke-linejoin="miter"/>
<circle cx="638.00" cy="636.30" r="2.0" fill="#a6a6a6"/>
<circle cx="630.60" cy="653.60" r="2.0" fill="#a6a6a6"/>
<circle cx="644.80" cy="651.00" r="2.0" fill="#a6a6a6"/>
<path d="M665.20 722.60V734.50M660.20 722.60H670.20M660.20 734.50H670.20" fill="none" stroke="#ffb568" stroke-width="1.1"/>
<path d="M656.80 757.20V729.40H673.60V757.20" fill="none" stroke="#ff8000" stroke-width="2" stroke-linejoin="miter"/>
<circle cx="658.10" cy="724.40" r="2.0" fill="#ff8000"/>
<circle cx="672.60" cy="724.40" r="2.0" fill="#ff8000"/>
<circle cx="665.40" cy="735.60" r="2.0" fill="#ff8000"/>
<text x="624.40" y="618.50" font-size="7.4" text-anchor="start" fill="#111"><tspan font-style="italic">p</tspan>=0.3868</text>
<text x="638.00" y="629.30" font-size="10.2" text-anchor="middle" fill="#111" >ns</text>
<text x="652.20" y="706.60" font-size="7.3" text-anchor="start" fill="#111"><tspan font-style="italic">p</tspan>&lt;0.0001</text>
<text x="665.40" y="719.30" font-size="10" text-anchor="middle" fill="#111" >****</text>
<text transform="translate(611,775) rotate(-45)" font-size="10.2" text-anchor="end" fill="#111">DMSO</text>
<text transform="translate(635,781) rotate(-45)" font-size="10.2" text-anchor="end" fill="#111"><tspan font-weight="bold">16o</tspan>( 25μM )</text>
<text transform="translate(665,778) rotate(-45)" font-size="10.2" text-anchor="end" fill="#111"><tspan font-weight="bold">DC2-C1</tspan>( 25 μM )</text>
</svg></body></html>
